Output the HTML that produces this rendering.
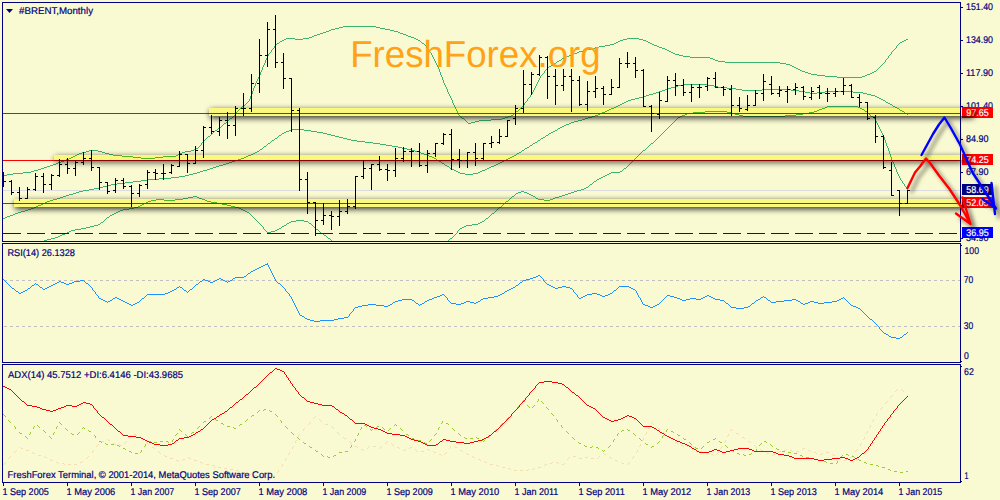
<!DOCTYPE html>
<html><head><meta charset="utf-8"><title>#BRENT,Monthly</title>
<style>
html,body{margin:0;padding:0;background:#FAFAD2;}
svg{display:block}
text{font-family:"Liberation Sans",sans-serif;font-size:9.8px;fill:#000080;stroke:#000080;stroke-width:0.2px;text-rendering:geometricPrecision}
.w{fill:#fff;stroke:#fff}
.wm{font-size:37.5px;fill:#FFA216;stroke:none}
</style></head><body>
<svg width="1000" height="500" viewBox="0 0 1000 500">
<defs>
<filter id="bs" x="-5%" y="-200%" width="110%" height="500%"><feGaussianBlur in="SourceAlpha" stdDeviation="3"/><feOffset dx="1" dy="2"/><feComponentTransfer><feFuncA type="linear" slope="0.85"/></feComponentTransfer><feMerge><feMergeNode/><feMergeNode in="SourceGraphic"/></feMerge></filter>
<filter id="as" x="-30%" y="-30%" width="160%" height="160%"><feGaussianBlur in="SourceAlpha" stdDeviation="2"/><feOffset dx="3.5" dy="3.5"/><feComponentTransfer><feFuncA type="linear" slope="0.55"/></feComponentTransfer><feMerge><feMergeNode/><feMergeNode in="SourceGraphic"/></feMerge></filter>
<clipPath id="cm"><rect x="3" y="3" width="957" height="238"/></clipPath>
</defs>
<rect width="1000" height="500" fill="#FAFAD2"/>
<g clip-path="url(#cm)" shape-rendering="crispEdges">
<rect x="3" y="190" width="957" height="1" fill="#DCDCE0"/>
<path d="M3,175h4v1h-4zM7,174h6v1h-6zM13,173h10v1h-10zM23,172h8v1h-8zM31,171h3v1h-3zM34,170h4v1h-4zM38,169h3v1h-3zM41,168h3v1h-3zM44,167h3v1h-3zM47,166h3v1h-3zM50,165h3v1h-3zM53,164h3v1h-3zM56,163h2v1h-2zM58,162h3v1h-3zM61,161h3v1h-3zM64,160h2v1h-2zM66,159h3v1h-3zM69,158h2v1h-2zM71,157h2v1h-2zM73,156h2v1h-2zM75,155h2v1h-2zM77,154h2v1h-2zM79,153h3v1h-3zM82,152h4v1h-4zM86,151h3v1h-3zM89,150h9v1h-9zM98,151h4v1h-4zM102,152h3v1h-3zM105,153h4v1h-4zM109,154h4v1h-4zM113,155h9v1h-9zM122,156h11v1h-11zM133,157h8v1h-8zM141,158h14v1h-14zM155,157h8v1h-8zM163,156h13v1h-13zM176,155h2v1h-2zM178,154h2v1h-2zM180,153h2v1h-2zM182,152h3v1h-3zM185,151h6v1h-6zM191,150h3v1h-3zM194,149h2v1h-2zM196,148h2v1h-2zM198,147h1v1h-1zM199,146h1v1h-1zM200,145h1v1h-1zM201,143h1v2h-1zM202,142h1v1h-1zM203,141h1v1h-1zM204,140h1v1h-1zM205,139h1v1h-1zM206,138h1v1h-1zM207,137h1v1h-1zM208,136h2v1h-2zM210,135h1v1h-1zM211,134h1v1h-1zM212,133h1v1h-1zM213,132h1v1h-1zM214,131h1v1h-1zM215,130h2v1h-2zM217,129h1v1h-1zM218,128h1v1h-1zM219,127h2v1h-2zM221,126h1v1h-1zM222,125h1v1h-1zM223,124h1v1h-1zM224,123h2v1h-2zM226,122h1v1h-1zM227,121h1v1h-1zM228,120h1v1h-1zM229,119h1v1h-1zM230,118h2v1h-2zM232,117h1v1h-1zM233,116h1v1h-1zM234,115h1v1h-1zM235,114h1v1h-1zM236,112h1v2h-1zM237,111h1v1h-1zM238,110h1v1h-1zM239,109h1v1h-1zM240,108h1v1h-1zM241,107h1v1h-1zM242,106h1v1h-1zM243,105h2v1h-2zM245,104h1v1h-1zM246,103h1v1h-1zM247,102h1v1h-1zM248,101h1v1h-1zM249,99h1v2h-1zM250,96h1v3h-1zM251,94h1v2h-1zM252,91h1v3h-1zM253,88h1v3h-1zM254,86h1v2h-1zM255,83h1v3h-1zM256,81h1v2h-1zM257,79h1v2h-1zM258,77h1v2h-1zM259,75h1v2h-1zM260,72h1v3h-1zM261,70h1v2h-1zM262,67h1v3h-1zM263,65h1v2h-1zM264,63h1v2h-1zM265,60h1v3h-1zM266,58h1v2h-1zM267,56h1v2h-1zM268,54h1v2h-1zM269,53h1v1h-1zM270,52h1v1h-1zM271,50h1v2h-1zM272,49h1v1h-1zM273,48h1v1h-1zM274,46h1v2h-1zM275,45h1v1h-1zM276,44h1v1h-1zM277,43h2v1h-2zM279,42h1v1h-1zM280,41h2v1h-2zM282,40h2v1h-2zM284,39h2v1h-2zM286,38h9v1h-9zM295,39h8v1h-8zM303,38h6v1h-6zM309,37h3v1h-3zM312,36h2v1h-2zM314,35h3v1h-3zM317,34h3v1h-3zM320,33h3v1h-3zM323,32h3v1h-3zM326,31h3v1h-3zM329,30h2v1h-2zM331,29h4v1h-4zM335,28h4v1h-4zM339,27h4v1h-4zM343,26h33v1h-33zM376,27h4v1h-4zM380,28h5v1h-5zM385,29h5v1h-5zM390,30h4v1h-4zM394,31h4v1h-4zM398,32h2v1h-2zM400,33h3v1h-3zM403,34h3v1h-3zM406,35h2v1h-2zM408,36h3v1h-3zM411,37h3v1h-3zM414,38h2v1h-2zM416,39h2v1h-2zM418,40h2v1h-2zM420,41h1v1h-1zM421,42h1v1h-1zM422,43h2v1h-2zM424,44h1v1h-1zM425,45h1v1h-1zM426,46h1v2h-1zM427,48h1v1h-1zM428,49h1v2h-1zM429,51h1v1h-1zM430,52h1v1h-1zM431,53h1v2h-1zM432,55h1v2h-1zM433,57h1v2h-1zM434,59h1v2h-1zM435,61h1v2h-1zM436,63h1v2h-1zM437,65h1v2h-1zM438,67h1v2h-1zM439,69h1v3h-1zM440,72h1v3h-1zM441,75h1v2h-1zM442,77h1v3h-1zM443,80h1v3h-1zM444,83h1v2h-1zM445,85h1v2h-1zM446,87h1v2h-1zM447,89h1v3h-1zM448,92h1v2h-1zM449,94h1v2h-1zM450,96h1v2h-1zM451,98h1v2h-1zM452,100h1v3h-1zM453,103h1v2h-1zM454,105h1v2h-1zM455,107h1v2h-1zM456,109h1v2h-1zM457,111h1v2h-1zM458,113h1v2h-1zM459,115h1v1h-1zM460,116h1v1h-1zM461,117h1v1h-1zM462,118h2v1h-2zM464,119h1v1h-1zM465,120h1v1h-1zM466,121h1v1h-1zM467,122h1v1h-1zM468,123h3v1h-3zM471,122h4v1h-4zM475,121h4v1h-4zM479,120h12v1h-12zM491,119h11v1h-11zM502,118h3v1h-3zM505,117h3v1h-3zM508,116h3v1h-3zM511,115h2v1h-2zM513,114h1v1h-1zM514,113h1v1h-1zM515,112h1v1h-1zM516,111h2v1h-2zM518,110h1v1h-1zM519,109h1v1h-1zM520,108h1v1h-1zM521,107h1v1h-1zM522,106h1v1h-1zM523,105h1v1h-1zM524,103h1v2h-1zM525,102h1v1h-1zM526,101h1v1h-1zM527,99h1v2h-1zM528,98h1v1h-1zM529,97h1v1h-1zM530,95h1v2h-1zM531,94h1v1h-1zM532,92h1v2h-1zM533,90h1v2h-1zM534,88h1v2h-1zM535,86h1v2h-1zM536,84h1v2h-1zM537,82h1v2h-1zM538,80h1v2h-1zM539,78h1v2h-1zM540,76h1v2h-1zM541,75h1v1h-1zM542,74h1v1h-1zM543,73h1v1h-1zM544,71h1v2h-1zM545,70h1v1h-1zM546,69h1v1h-1zM547,68h1v1h-1zM548,67h1v1h-1zM549,66h2v1h-2zM551,65h2v1h-2zM553,64h1v1h-1zM554,63h2v1h-2zM556,62h1v1h-1zM557,61h2v1h-2zM559,60h2v1h-2zM561,59h1v1h-1zM562,58h2v1h-2zM564,57h2v1h-2zM566,56h3v1h-3zM569,55h2v1h-2zM571,54h3v1h-3zM574,53h3v1h-3zM577,52h2v1h-2zM579,51h4v1h-4zM583,50h4v1h-4zM587,49h4v1h-4zM591,48h4v1h-4zM595,47h4v1h-4zM599,46h6v1h-6zM605,45h5v1h-5zM610,44h4v1h-4zM614,43h2v1h-2zM616,42h2v1h-2zM618,41h2v1h-2zM620,40h3v1h-3zM623,39h4v1h-4zM627,38h12v1h-12zM639,39h4v1h-4zM643,40h3v1h-3zM646,41h2v1h-2zM648,42h2v1h-2zM650,43h2v1h-2zM652,44h2v1h-2zM654,45h3v1h-3zM657,46h2v1h-2zM659,47h3v1h-3zM662,48h3v1h-3zM665,49h2v1h-2zM667,50h2v1h-2zM669,51h2v1h-2zM671,52h2v1h-2zM673,53h2v1h-2zM675,54h4v1h-4zM679,55h4v1h-4zM683,56h7v1h-7zM690,57h20v1h-20zM710,58h3v1h-3zM713,59h2v1h-2zM715,60h3v1h-3zM718,61h7v1h-7zM725,62h55v1h-55zM780,63h6v1h-6zM786,64h4v1h-4zM790,65h2v1h-2zM792,66h2v1h-2zM794,67h2v1h-2zM796,68h2v1h-2zM798,69h2v1h-2zM800,70h2v1h-2zM802,71h3v1h-3zM805,72h3v1h-3zM808,73h3v1h-3zM811,74h6v1h-6zM817,75h8v1h-8zM825,76h12v1h-12zM837,77h25v1h-25zM862,76h3v1h-3zM865,75h2v1h-2zM867,74h3v1h-3zM870,73h2v1h-2zM872,72h2v1h-2zM874,71h2v1h-2zM876,70h1v1h-1zM877,69h1v1h-1zM878,68h1v1h-1zM879,67h1v1h-1zM880,66h1v1h-1zM881,65h1v1h-1zM882,64h1v1h-1zM883,63h1v1h-1zM884,62h1v1h-1zM885,60h1v2h-1zM886,59h1v1h-1zM887,58h1v1h-1zM888,56h1v2h-1zM889,55h1v1h-1zM890,54h1v1h-1zM891,52h1v2h-1zM892,51h1v1h-1zM893,50h1v1h-1zM894,49h1v1h-1zM895,48h1v1h-1zM896,46h1v2h-1zM897,45h1v1h-1zM898,44h1v1h-1zM899,43h1v1h-1zM900,42h2v1h-2zM902,41h2v1h-2zM904,40h2v1h-2zM906,39h2v1h-2z" fill="#3CB371"/>
<path d="M3,218h2v1h-2zM5,217h2v1h-2zM7,216h3v1h-3zM10,215h3v1h-3zM13,214h2v1h-2zM15,213h3v1h-3zM18,212h3v1h-3zM21,211h4v1h-4zM25,210h3v1h-3zM28,209h3v1h-3zM31,208h3v1h-3zM34,207h2v1h-2zM36,206h2v1h-2zM38,205h3v1h-3zM41,204h2v1h-2zM43,203h2v1h-2zM45,202h2v1h-2zM47,201h3v1h-3zM50,200h3v1h-3zM53,199h4v1h-4zM57,198h3v1h-3zM60,197h3v1h-3zM63,196h3v1h-3zM66,195h3v1h-3zM69,194h4v1h-4zM73,193h3v1h-3zM76,192h3v1h-3zM79,191h4v1h-4zM83,190h6v1h-6zM89,189h5v1h-5zM94,188h5v1h-5zM99,187h4v1h-4zM103,186h4v1h-4zM107,185h4v1h-4zM111,184h6v1h-6zM117,183h8v1h-8zM125,182h8v1h-8zM133,181h8v1h-8zM141,180h7v1h-7zM148,179h11v1h-11zM159,178h12v1h-12zM171,177h8v1h-8zM179,176h6v1h-6zM185,175h4v1h-4zM189,174h4v1h-4zM193,173h4v1h-4zM197,172h3v1h-3zM200,171h3v1h-3zM203,170h4v1h-4zM207,169h3v1h-3zM210,168h3v1h-3zM213,167h3v1h-3zM216,166h3v1h-3zM219,165h4v1h-4zM223,164h3v1h-3zM226,163h3v1h-3zM229,162h3v1h-3zM232,161h3v1h-3zM235,160h3v1h-3zM238,159h3v1h-3zM241,158h3v1h-3zM244,157h2v1h-2zM246,156h2v1h-2zM248,155h3v1h-3zM251,154h2v1h-2zM253,153h2v1h-2zM255,152h2v1h-2zM257,151h2v1h-2zM259,150h1v1h-1zM260,149h2v1h-2zM262,148h1v1h-1zM263,147h1v1h-1zM264,146h2v1h-2zM266,145h1v1h-1zM267,144h1v1h-1zM268,143h2v1h-2zM270,142h1v1h-1zM271,141h1v1h-1zM272,140h2v1h-2zM274,139h1v1h-1zM275,138h2v1h-2zM277,137h1v1h-1zM278,136h1v1h-1zM279,135h2v1h-2zM281,134h1v1h-1zM282,133h2v1h-2zM284,132h2v1h-2zM286,131h3v1h-3zM289,130h2v1h-2zM291,129h13v1h-13zM304,130h7v1h-7zM311,131h6v1h-6zM317,132h6v1h-6zM323,133h4v1h-4zM327,134h4v1h-4zM331,135h4v1h-4zM335,136h4v1h-4zM339,137h4v1h-4zM343,138h4v1h-4zM347,139h4v1h-4zM351,140h6v1h-6zM357,141h8v1h-8zM365,142h8v1h-8zM373,143h7v1h-7zM380,144h6v1h-6zM386,145h6v1h-6zM392,146h6v1h-6zM398,147h4v1h-4zM402,148h5v1h-5zM407,149h4v1h-4zM411,150h4v1h-4zM415,151h4v1h-4zM419,152h2v1h-2zM421,153h3v1h-3zM424,154h3v1h-3zM427,155h2v1h-2zM429,156h3v1h-3zM432,157h2v1h-2zM434,158h2v1h-2zM436,159h1v1h-1zM437,160h2v1h-2zM439,161h2v1h-2zM441,162h1v1h-1zM442,163h2v1h-2zM444,164h1v1h-1zM445,165h2v1h-2zM447,166h2v1h-2zM449,167h1v1h-1zM450,168h2v1h-2zM452,169h2v1h-2zM454,170h2v1h-2zM456,171h2v1h-2zM458,172h2v1h-2zM460,173h5v1h-5zM465,174h8v1h-8zM473,173h5v1h-5zM478,172h2v1h-2zM480,171h2v1h-2zM482,170h3v1h-3zM485,169h2v1h-2zM487,168h2v1h-2zM489,167h2v1h-2zM491,166h3v1h-3zM494,165h2v1h-2zM496,164h2v1h-2zM498,163h2v1h-2zM500,162h2v1h-2zM502,161h2v1h-2zM504,160h2v1h-2zM506,159h2v1h-2zM508,158h2v1h-2zM510,157h2v1h-2zM512,156h2v1h-2zM514,155h2v1h-2zM516,154h1v1h-1zM517,153h2v1h-2zM519,152h2v1h-2zM521,151h1v1h-1zM522,150h2v1h-2zM524,149h1v1h-1zM525,148h2v1h-2zM527,147h2v1h-2zM529,146h1v1h-1zM530,145h2v1h-2zM532,144h1v1h-1zM533,143h2v1h-2zM535,142h2v1h-2zM537,141h1v1h-1zM538,140h2v1h-2zM540,139h1v1h-1zM541,138h2v1h-2zM543,137h2v1h-2zM545,136h1v1h-1zM546,135h2v1h-2zM548,134h1v1h-1zM549,133h2v1h-2zM551,132h2v1h-2zM553,131h2v1h-2zM555,130h2v1h-2zM557,129h1v1h-1zM558,128h2v1h-2zM560,127h2v1h-2zM562,126h2v1h-2zM564,125h2v1h-2zM566,124h3v1h-3zM569,123h2v1h-2zM571,122h3v1h-3zM574,121h4v1h-4zM578,120h4v1h-4zM582,119h3v1h-3zM585,118h3v1h-3zM588,117h4v1h-4zM592,116h3v1h-3zM595,115h3v1h-3zM598,114h2v1h-2zM600,113h2v1h-2zM602,112h3v1h-3zM605,111h2v1h-2zM607,110h2v1h-2zM609,109h2v1h-2zM611,108h3v1h-3zM614,107h2v1h-2zM616,106h2v1h-2zM618,105h2v1h-2zM620,104h2v1h-2zM622,103h2v1h-2zM624,102h2v1h-2zM626,101h2v1h-2zM628,100h3v1h-3zM631,99h4v1h-4zM635,98h4v1h-4zM639,97h4v1h-4zM643,96h3v1h-3zM646,95h3v1h-3zM649,94h4v1h-4zM653,93h3v1h-3zM656,92h3v1h-3zM659,91h3v1h-3zM662,90h3v1h-3zM665,89h3v1h-3zM668,88h3v1h-3zM671,87h4v1h-4zM675,86h3v1h-3zM678,85h6v1h-6zM684,84h23v1h-23zM707,85h7v1h-7zM714,86h4v1h-4zM718,87h9v1h-9zM727,88h9v1h-9zM736,89h6v1h-6zM742,90h20v1h-20zM762,89h29v1h-29zM791,90h8v1h-8zM799,91h6v1h-6zM805,92h5v1h-5zM810,93h7v1h-7zM817,92h8v1h-8zM825,91h28v1h-28zM853,92h10v1h-10zM863,93h4v1h-4zM867,94h4v1h-4zM871,95h4v1h-4zM875,96h2v1h-2zM877,97h2v1h-2zM879,98h2v1h-2zM881,99h2v1h-2zM883,100h2v1h-2zM885,101h1v1h-1zM886,102h2v1h-2zM888,103h2v1h-2zM890,104h2v1h-2zM892,105h1v1h-1zM893,106h2v1h-2zM895,107h2v1h-2zM897,108h2v1h-2zM899,109h1v1h-1zM900,110h2v1h-2zM902,111h2v1h-2zM904,112h1v1h-1zM905,113h2v1h-2zM907,114h1v1h-1z" fill="#3CB371"/>
<path d="M38,244h1v1h-1zM39,243h2v1h-2zM41,242h1v1h-1zM42,241h2v1h-2zM44,240h3v1h-3zM47,239h4v1h-4zM51,238h4v1h-4zM55,237h3v1h-3zM58,236h2v1h-2zM60,235h2v1h-2zM62,234h3v1h-3zM65,233h2v1h-2zM67,232h2v1h-2zM69,231h2v1h-2zM71,230h4v1h-4zM75,229h6v1h-6zM81,228h5v1h-5zM86,227h4v1h-4zM90,226h4v1h-4zM94,225h4v1h-4zM98,224h2v1h-2zM100,223h1v1h-1zM101,222h2v1h-2zM103,221h1v1h-1zM104,220h1v1h-1zM105,219h1v1h-1zM106,218h1v1h-1zM107,217h2v1h-2zM109,216h1v1h-1zM110,215h2v1h-2zM112,214h2v1h-2zM114,213h2v1h-2zM116,212h2v1h-2zM118,211h2v1h-2zM120,210h3v1h-3zM123,209h6v1h-6zM129,208h5v1h-5zM134,207h4v1h-4zM138,206h2v1h-2zM140,205h2v1h-2zM142,204h2v1h-2zM144,203h2v1h-2zM146,202h2v1h-2zM148,201h3v1h-3zM151,200h5v1h-5zM156,199h8v1h-8zM164,200h11v1h-11zM175,199h8v1h-8zM183,198h5v1h-5zM188,197h5v1h-5zM193,196h4v1h-4zM197,197h2v1h-2zM199,198h3v1h-3zM202,199h3v1h-3zM205,200h2v1h-2zM207,201h4v1h-4zM211,202h6v1h-6zM217,203h5v1h-5zM222,204h5v1h-5zM227,205h4v1h-4zM231,206h4v1h-4zM235,207h4v1h-4zM239,208h2v1h-2zM241,209h2v1h-2zM243,210h2v1h-2zM245,211h2v1h-2zM247,212h2v1h-2zM249,213h1v1h-1zM250,214h1v1h-1zM251,215h1v1h-1zM252,216h1v1h-1zM253,217h1v1h-1zM254,218h1v1h-1zM255,219h1v1h-1zM256,220h1v1h-1zM257,221h1v1h-1zM258,222h1v1h-1zM259,223h1v1h-1zM260,224h1v1h-1zM261,225h1v1h-1zM262,226h1v1h-1zM263,227h1v2h-1zM264,229h1v1h-1zM265,230h1v1h-1zM266,231h1v1h-1zM267,232h4v1h-4zM271,231h4v1h-4zM275,230h2v1h-2zM277,229h2v1h-2zM279,228h2v1h-2zM281,227h1v1h-1zM282,226h2v1h-2zM284,225h2v1h-2zM286,224h1v1h-1zM287,223h2v1h-2zM289,222h2v1h-2zM291,221h5v1h-5zM296,220h8v1h-8zM304,221h4v1h-4zM308,222h1v1h-1zM309,223h2v1h-2zM311,224h1v1h-1zM312,225h1v1h-1zM313,226h1v1h-1zM314,227h1v1h-1zM315,228h1v1h-1zM316,229h2v1h-2zM318,230h1v1h-1zM319,231h1v1h-1zM320,232h1v1h-1zM321,233h2v1h-2zM323,234h1v1h-1zM324,235h2v1h-2zM326,236h1v1h-1zM327,237h1v1h-1zM328,238h2v1h-2zM330,239h1v1h-1zM331,240h1v1h-1zM332,241h2v1h-2zM334,242h1v1h-1zM335,243h1v1h-1zM336,244h1v1h-1z" fill="#3CB371"/>
<path d="M445,245h1v1h-1zM446,243h1v2h-1zM447,241h1v2h-1zM448,240h1v1h-1zM449,239h1v1h-1zM450,238h2v1h-2zM452,237h1v1h-1zM453,236h1v1h-1zM454,235h1v1h-1zM455,234h1v1h-1zM456,233h1v1h-1zM457,231h1v2h-1zM458,230h1v1h-1zM459,229h1v1h-1zM460,228h2v1h-2zM462,227h2v1h-2zM464,226h2v1h-2zM466,225h6v1h-6zM472,224h6v1h-6zM478,223h2v1h-2zM480,222h2v1h-2zM482,221h2v1h-2zM484,220h1v1h-1zM485,219h1v1h-1zM486,218h2v1h-2zM488,217h1v1h-1zM489,216h1v1h-1zM490,215h1v1h-1zM491,214h1v1h-1zM492,213h2v1h-2zM494,212h1v1h-1zM495,211h1v1h-1zM496,210h1v1h-1zM497,209h1v1h-1zM498,208h1v1h-1zM499,207h2v1h-2zM501,206h1v1h-1zM502,205h1v1h-1zM503,204h1v1h-1zM504,203h1v1h-1zM505,202h1v1h-1zM506,201h2v1h-2zM508,200h1v1h-1zM509,199h1v1h-1zM510,198h1v1h-1zM511,197h1v1h-1zM512,196h2v1h-2zM514,195h1v1h-1zM515,194h1v1h-1zM516,193h2v1h-2zM518,192h3v1h-3zM521,191h3v1h-3zM524,192h3v1h-3zM527,193h2v1h-2zM529,194h2v1h-2zM531,195h2v1h-2zM533,196h2v1h-2zM535,197h1v1h-1zM536,198h2v1h-2zM538,199h6v1h-6zM544,200h6v1h-6zM550,199h3v1h-3zM553,198h2v1h-2zM555,197h4v1h-4zM559,196h3v1h-3zM562,195h3v1h-3zM565,194h3v1h-3zM568,193h3v1h-3zM571,192h3v1h-3zM574,191h3v1h-3zM577,190h4v1h-4zM581,189h3v1h-3zM584,188h2v1h-2zM586,187h2v1h-2zM588,186h1v1h-1zM589,185h1v1h-1zM590,184h2v1h-2zM592,183h1v1h-1zM593,182h1v1h-1zM594,181h2v1h-2zM596,180h1v1h-1zM597,179h2v1h-2zM599,178h2v1h-2zM601,177h2v1h-2zM603,176h2v1h-2zM605,175h2v1h-2zM607,174h2v1h-2zM609,173h2v1h-2zM611,172h9v1h-9zM620,171h2v1h-2zM622,170h1v1h-1zM623,169h1v1h-1zM624,168h2v1h-2zM626,167h1v1h-1zM627,166h1v1h-1zM628,165h1v1h-1zM629,164h1v1h-1zM630,163h1v1h-1zM631,162h1v1h-1zM632,161h1v1h-1zM633,160h1v1h-1zM634,159h1v1h-1zM635,158h1v1h-1zM636,157h1v1h-1zM637,156h1v1h-1zM638,155h1v1h-1zM639,154h1v1h-1zM640,153h1v1h-1zM641,152h1v1h-1zM642,151h1v1h-1zM643,150h2v1h-2zM645,149h1v1h-1zM646,148h1v1h-1zM647,147h1v1h-1zM648,146h1v1h-1zM649,145h1v1h-1zM650,144h1v1h-1zM651,143h2v1h-2zM653,142h1v1h-1zM654,141h1v1h-1zM655,140h1v1h-1zM656,139h1v1h-1zM657,138h1v1h-1zM658,137h1v1h-1zM659,136h1v1h-1zM660,135h1v1h-1zM661,134h1v1h-1zM662,133h1v1h-1zM663,132h1v1h-1zM664,131h1v1h-1zM665,130h1v1h-1zM666,129h1v1h-1zM667,128h1v1h-1zM668,127h1v1h-1zM669,126h1v1h-1zM670,125h1v1h-1zM671,124h1v1h-1zM672,123h1v1h-1zM673,122h1v1h-1zM674,121h1v1h-1zM675,120h1v1h-1zM676,119h1v1h-1zM677,118h1v1h-1zM678,117h2v1h-2zM680,116h2v1h-2zM682,115h3v1h-3zM685,114h2v1h-2zM687,113h6v1h-6zM693,112h12v1h-12zM705,111h22v1h-22zM727,112h4v1h-4zM731,113h4v1h-4zM735,114h4v1h-4zM739,115h4v1h-4zM743,116h42v1h-42zM785,115h11v1h-11zM796,114h7v1h-7zM803,113h6v1h-6zM809,112h5v1h-5zM814,111h3v1h-3zM817,110h2v1h-2zM819,109h3v1h-3zM822,108h3v1h-3zM825,107h2v1h-2zM827,106h31v1h-31zM858,107h2v1h-2zM860,108h2v1h-2zM862,109h2v1h-2zM864,110h1v1h-1zM865,111h2v1h-2zM867,112h1v1h-1zM868,113h1v1h-1zM869,114h1v1h-1zM870,115h1v1h-1zM871,116h2v1h-2zM873,117h1v1h-1zM874,118h1v1h-1zM875,119h1v2h-1zM876,121h1v2h-1zM877,123h1v2h-1zM878,125h1v2h-1zM879,127h1v2h-1zM880,129h1v2h-1zM881,131h1v2h-1zM882,133h1v2h-1zM883,135h1v2h-1zM884,137h1v3h-1zM885,140h1v3h-1zM886,143h1v3h-1zM887,146h1v2h-1zM888,148h1v3h-1zM889,151h1v3h-1zM890,154h1v3h-1zM891,157h1v3h-1zM892,160h1v2h-1zM893,162h1v2h-1zM894,164h1v3h-1zM895,167h1v2h-1zM896,169h1v3h-1zM897,172h1v2h-1zM898,174h1v2h-1zM899,176h1v2h-1zM900,178h1v2h-1zM901,180h1v1h-1zM902,181h1v2h-1zM903,183h1v1h-1zM904,184h1v2h-1zM905,186h1v1h-1zM906,187h1v2h-1zM907,189h1v1h-1z" fill="#3CB371"/>
</g>
<text class="wm" x="350.2" y="66.6" textLength="250.5" lengthAdjust="spacingAndGlyphs">FreshForex.org</text>
<g clip-path="url(#cm)" shape-rendering="crispEdges">
<rect x="3" y="113" width="957" height="1" fill="#FF0000"/>
<rect x="3" y="160" width="957" height="1" fill="#FF0000"/>
<rect x="3" y="203" width="957" height="1" fill="#FF0000"/>
<line x1="3" y1="233.5" x2="960" y2="233.5" stroke="#0000FF" stroke-width="1" stroke-dasharray="18 6"/>
<path id="bars" d="M3,172v15h1v-15zM4,181h2v1h-2zM11,180v15h1v-15zM9,181h2v1h-2zM12,192h2v1h-2zM19,187v14h1v-14zM17,192h2v1h-2zM20,198h2v1h-2zM27,187v12h1v-12zM25,198h2v1h-2zM28,189h2v1h-2zM35,173v18h1v-18zM33,189h2v1h-2zM36,176h2v1h-2zM43,173v20h1v-20zM41,176h2v1h-2zM44,184h2v1h-2zM51,174v16h1v-16zM49,184h2v1h-2zM52,175h2v1h-2zM59,159v18h1v-18zM57,175h2v1h-2zM60,164h2v1h-2zM67,158v16h1v-16zM65,164h2v1h-2zM68,168h2v1h-2zM75,161v15h1v-15zM73,168h2v1h-2zM76,162h2v1h-2zM83,152v13h1v-13zM81,162h2v1h-2zM84,158h2v1h-2zM91,150v21h1v-21zM89,158h2v1h-2zM92,167h2v1h-2zM99,167v23h1v-23zM97,167h2v1h-2zM100,182h2v1h-2zM107,182v12h1v-12zM105,182h2v1h-2zM108,191h2v1h-2zM115,178v15h1v-15zM113,190h2v1h-2zM116,180h2v1h-2zM123,178v11h1v-11zM121,180h2v1h-2zM124,186h2v1h-2zM131,185v22h1v-22zM129,186h2v1h-2zM132,193h2v1h-2zM139,184v13h1v-13zM137,193h2v1h-2zM140,185h2v1h-2zM147,170v19h1v-19zM145,184h2v1h-2zM148,172h2v1h-2zM155,169v11h1v-11zM153,172h2v1h-2zM156,173h2v1h-2zM163,164v16h1v-16zM161,173h2v1h-2zM164,173h2v1h-2zM171,164v10h1v-10zM169,172h2v1h-2zM172,165h2v1h-2zM179,151v16h1v-16zM177,166h2v1h-2zM180,154h2v1h-2zM187,154v19h1v-19zM185,154h2v1h-2zM188,163h2v1h-2zM195,146v18h1v-18zM193,163h2v1h-2zM196,150h2v1h-2zM203,126v32h1v-32zM201,150h2v1h-2zM204,127h2v1h-2zM211,115v19h1v-19zM209,127h2v1h-2zM212,131h2v1h-2zM219,117v19h1v-19zM217,131h2v1h-2zM220,120h2v1h-2zM227,112v27h1v-27zM225,120h2v1h-2zM228,125h2v1h-2zM235,106v30h1v-30zM233,125h2v1h-2zM236,108h2v1h-2zM243,93v23h1v-23zM241,108h2v1h-2zM244,108h2v1h-2zM251,74v38h1v-38zM249,108h2v1h-2zM252,83h2v1h-2zM259,39v54h1v-54zM257,83h2v1h-2zM260,55h2v1h-2zM267,22v45h1v-45zM265,55h2v1h-2zM268,29h2v1h-2zM275,15v53h1v-53zM273,29h2v1h-2zM276,62h2v1h-2zM283,53v36h1v-36zM281,62h2v1h-2zM284,78h2v1h-2zM291,78v54h1v-54zM289,78h2v1h-2zM292,110h2v1h-2zM299,108v83h1v-83zM297,110h2v1h-2zM300,179h2v1h-2zM307,172v42h1v-42zM305,179h2v1h-2zM308,202h2v1h-2zM315,202v34h1v-34zM313,202h2v1h-2zM316,220h2v1h-2zM323,203v22h1v-22zM321,220h2v1h-2zM324,215h2v1h-2zM331,211v19h1v-19zM329,215h2v1h-2zM332,216h2v1h-2zM339,200v26h1v-26zM337,216h2v1h-2zM340,211h2v1h-2zM347,199v15h1v-15zM345,211h2v1h-2zM348,206h2v1h-2zM355,176v33h1v-33zM353,206h2v1h-2zM356,176h2v1h-2zM363,160v19h1v-19zM361,176h2v1h-2zM364,168h2v1h-2zM371,164v26h1v-26zM369,168h2v1h-2zM372,164h2v1h-2zM379,156v15h1v-15zM377,164h2v1h-2zM380,169h2v1h-2zM387,164v17h1v-17zM385,169h2v1h-2zM388,170h2v1h-2zM395,148v29h1v-29zM393,170h2v1h-2zM396,158h2v1h-2zM403,147v15h1v-15zM401,158h2v1h-2zM404,151h2v1h-2zM411,148v19h1v-19zM409,151h2v1h-2zM412,151h2v1h-2zM419,143v24h1v-24zM417,151h2v1h-2zM420,165h2v1h-2zM427,150v23h1v-23zM425,165h2v1h-2zM428,153h2v1h-2zM435,143v14h1v-14zM433,153h2v1h-2zM436,143h2v1h-2zM443,133v12h1v-12zM441,143h2v1h-2zM444,134h2v1h-2zM451,129v41h1v-41zM449,134h2v1h-2zM452,159h2v1h-2zM459,149v19h1v-19zM457,159h2v1h-2zM460,160h2v1h-2zM467,152v16h1v-16zM465,160h2v1h-2zM468,152h2v1h-2zM475,143v23h1v-23zM473,152h2v1h-2zM476,158h2v1h-2zM483,143v17h1v-17zM481,158h2v1h-2zM484,143h2v1h-2zM491,136v12h1v-12zM489,143h2v1h-2zM492,142h2v1h-2zM499,129v15h1v-15zM497,142h2v1h-2zM500,136h2v1h-2zM507,120v17h1v-17zM505,136h2v1h-2zM508,120h2v1h-2zM515,105v20h1v-20zM513,118h2v1h-2zM516,108h2v1h-2zM523,70v43h1v-43zM521,108h2v1h-2zM524,84h2v1h-2zM531,72v23h1v-23zM529,84h2v1h-2zM532,74h2v1h-2zM539,55v21h1v-21zM537,74h2v1h-2zM540,57h2v1h-2zM547,56v43h1v-43zM545,57h2v1h-2zM548,76h2v1h-2zM555,69v36h1v-36zM553,76h2v1h-2zM556,85h2v1h-2zM563,69v22h1v-22zM561,85h2v1h-2zM564,76h2v1h-2zM571,69v43h1v-43zM569,76h2v1h-2zM572,80h2v1h-2zM579,76v30h1v-30zM577,80h2v1h-2zM580,104h2v1h-2zM587,81v30h1v-30zM585,104h2v1h-2zM588,91h2v1h-2zM595,76v22h1v-22zM593,91h2v1h-2zM596,88h2v1h-2zM603,86v19h1v-19zM601,88h2v1h-2zM604,94h2v1h-2zM611,79v16h1v-16zM609,94h2v1h-2zM612,87h2v1h-2zM619,58v30h1v-30zM617,87h2v1h-2zM620,63h2v1h-2zM627,52v16h1v-16zM625,63h2v1h-2zM628,63h2v1h-2zM635,57v21h1v-21zM633,63h2v1h-2zM636,70h2v1h-2zM643,69v38h1v-38zM641,70h2v1h-2zM644,106h2v1h-2zM651,105v27h1v-27zM649,106h2v1h-2zM652,113h2v1h-2zM659,92v27h1v-27zM657,114h2v1h-2zM660,100h2v1h-2zM667,76v26h1v-26zM665,101h2v1h-2zM668,80h2v1h-2zM675,73v23h1v-23zM673,80h2v1h-2zM676,85h2v1h-2zM683,79v17h1v-17zM681,85h2v1h-2zM684,92h2v1h-2zM691,84v18h1v-18zM689,92h2v1h-2zM692,87h2v1h-2zM699,84v14h1v-14zM697,87h2v1h-2zM700,87h2v1h-2zM707,77v14h1v-14zM705,86h2v1h-2zM708,78h2v1h-2zM715,72v16h1v-16zM713,78h2v1h-2zM716,87h2v1h-2zM723,86v10h1v-10zM721,87h2v1h-2zM724,89h2v1h-2zM731,85v31h1v-31zM729,89h2v1h-2zM732,105h2v1h-2zM739,97v15h1v-15zM737,105h2v1h-2zM740,108h2v1h-2zM747,95v16h1v-16zM745,109h2v1h-2zM748,105h2v1h-2zM755,90v16h1v-16zM753,105h2v1h-2zM756,93h2v1h-2zM763,74v27h1v-27zM761,93h2v1h-2zM764,81h2v1h-2zM771,76v19h1v-19zM769,84h2v1h-2zM772,93h2v1h-2zM779,86v11h1v-11zM777,93h2v1h-2zM780,90h2v1h-2zM787,86v17h1v-17zM785,91h2v1h-2zM788,89h2v1h-2zM795,83v12h1v-12zM793,89h2v1h-2zM796,87h2v1h-2zM803,86v14h1v-14zM801,87h2v1h-2zM804,96h2v1h-2zM811,87v13h1v-13zM809,97h2v1h-2zM812,91h2v1h-2zM819,85v14h1v-14zM817,87h2v1h-2zM820,93h2v1h-2zM827,88v14h1v-14zM825,93h2v1h-2zM828,93h2v1h-2zM835,88v9h1v-9zM833,93h2v1h-2zM836,91h2v1h-2zM843,78v17h1v-17zM841,91h2v1h-2zM844,85h2v1h-2zM851,84v14h1v-14zM849,85h2v1h-2zM852,97h2v1h-2zM859,94v13h1v-13zM857,97h2v1h-2zM860,102h2v1h-2zM867,102v18h1v-18zM865,102h2v1h-2zM868,118h2v1h-2zM875,115v28h1v-28zM873,117h2v1h-2zM876,136h2v1h-2zM883,135v34h1v-34zM881,136h2v1h-2zM884,167h2v1h-2zM891,162v34h1v-34zM889,170h2v1h-2zM892,195h2v1h-2zM899,190v26h1v-26zM897,190h2v1h-2zM900,203h2v1h-2zM907,190v14h1v-14zM905,203h2v1h-2zM908,190h2v1h-2z" fill="#000"/>
</g>
<g shape-rendering="crispEdges">
<line x1="4" y1="280.5" x2="960" y2="280.5" stroke="#C0C0C0" stroke-width="1" stroke-dasharray="3 3"/>
<line x1="4" y1="326.5" x2="960" y2="326.5" stroke="#C0C0C0" stroke-width="1" stroke-dasharray="3 3"/>
<path d="M3,279h1v1h-1zM4,280h1v1h-1zM5,281h1v1h-1zM6,282h1v1h-1zM7,283h1v1h-1zM8,284h1v1h-1zM9,285h1v1h-1zM10,286h1v1h-1zM11,287h1v1h-1zM12,288h2v1h-2zM14,289h1v1h-1zM15,290h1v1h-1zM16,291h2v1h-2zM18,292h1v1h-1zM19,293h2v1h-2zM21,292h2v1h-2zM23,291h2v1h-2zM25,290h2v1h-2zM27,289h1v1h-1zM28,288h2v1h-2zM30,287h1v1h-1zM31,286h1v1h-1zM32,285h2v1h-2zM34,284h1v1h-1zM35,283h1v1h-1zM36,284h2v1h-2zM38,285h1v1h-1zM39,286h1v1h-1zM40,287h2v1h-2zM42,288h1v1h-1zM43,289h2v1h-2zM45,288h2v1h-2zM47,287h2v1h-2zM49,286h2v1h-2zM51,285h2v1h-2zM53,284h2v1h-2zM55,283h2v1h-2zM57,282h2v1h-2zM59,281h2v1h-2zM61,282h3v1h-3zM64,283h2v1h-2zM66,284h3v1h-3zM69,283h3v1h-3zM72,282h2v1h-2zM74,281h6v1h-6zM80,280h4v1h-4zM84,281h1v1h-1zM85,282h1v1h-1zM86,283h2v1h-2zM88,284h1v1h-1zM89,285h1v1h-1zM90,286h1v1h-1zM91,287h1v1h-1zM92,288h1v2h-1zM93,290h1v1h-1zM94,291h1v1h-1zM95,292h1v2h-1zM96,294h1v1h-1zM97,295h1v1h-1zM98,296h1v2h-1zM99,298h2v1h-2zM101,299h2v1h-2zM103,300h2v1h-2zM105,301h2v1h-2zM107,302h1v1h-1zM108,301h2v1h-2zM110,300h2v1h-2zM112,299h1v1h-1zM113,298h2v1h-2zM115,297h2v1h-2zM117,298h2v1h-2zM119,299h2v1h-2zM121,300h2v1h-2zM123,301h2v1h-2zM125,302h2v1h-2zM127,303h2v1h-2zM129,304h2v1h-2zM131,305h2v1h-2zM133,304h2v1h-2zM135,303h2v1h-2zM137,302h2v1h-2zM139,301h1v1h-1zM140,300h1v1h-1zM141,299h1v1h-1zM142,298h2v1h-2zM144,297h1v1h-1zM145,296h1v1h-1zM146,295h1v1h-1zM147,294h18v1h-18zM165,293h3v1h-3zM168,292h2v1h-2zM170,291h2v1h-2zM172,290h2v1h-2zM174,289h2v1h-2zM176,288h1v1h-1zM177,287h2v1h-2zM179,286h1v1h-1zM180,287h2v1h-2zM182,288h1v1h-1zM183,289h1v1h-1zM184,290h2v1h-2zM186,291h1v1h-1zM187,292h1v1h-1zM188,291h1v1h-1zM189,290h1v1h-1zM190,289h2v1h-2zM192,288h1v1h-1zM193,287h1v1h-1zM194,286h1v1h-1zM195,285h1v1h-1zM196,284h2v1h-2zM198,283h1v1h-1zM199,282h1v1h-1zM200,281h2v1h-2zM202,280h1v1h-1zM203,279h2v1h-2zM205,280h3v1h-3zM208,281h2v1h-2zM210,282h3v1h-3zM213,281h2v1h-2zM215,280h2v1h-2zM217,279h2v1h-2zM219,278h2v1h-2zM221,279h2v1h-2zM223,280h2v1h-2zM225,281h2v1h-2zM227,282h1v1h-1zM228,281h2v1h-2zM230,280h2v1h-2zM232,279h1v1h-1zM233,278h2v1h-2zM235,277h9v1h-9zM244,276h2v1h-2zM246,275h1v1h-1zM247,274h1v1h-1zM248,273h2v1h-2zM250,272h1v1h-1zM251,271h2v1h-2zM253,270h2v1h-2zM255,269h2v1h-2zM257,268h2v1h-2zM259,267h2v1h-2zM261,266h2v1h-2zM263,265h2v1h-2zM265,264h2v1h-2zM267,263h1v2h-1zM268,265h1v2h-1zM269,267h1v2h-1zM270,269h1v2h-1zM271,271h1v2h-1zM272,273h1v2h-1zM273,275h1v2h-1zM274,277h1v2h-1zM275,279h1v2h-1zM276,281h1v1h-1zM277,282h1v1h-1zM278,283h2v1h-2zM280,284h1v1h-1zM281,285h1v1h-1zM282,286h1v1h-1zM283,287h1v1h-1zM284,288h1v1h-1zM285,289h1v2h-1zM286,291h1v1h-1zM287,292h1v1h-1zM288,293h1v1h-1zM289,294h1v2h-1zM290,296h1v1h-1zM291,297h1v2h-1zM292,299h1v2h-1zM293,301h1v2h-1zM294,303h1v2h-1zM295,305h1v2h-1zM296,307h1v2h-1zM297,309h1v2h-1zM298,311h1v2h-1zM299,313h1v2h-1zM300,315h2v1h-2zM302,316h2v1h-2zM304,317h1v1h-1zM305,318h2v1h-2zM307,319h3v1h-3zM310,320h4v1h-4zM314,321h6v1h-6zM320,320h14v1h-14zM334,319h4v1h-4zM338,318h6v1h-6zM344,317h4v1h-4zM348,316h1v1h-1zM349,314h1v2h-1zM350,313h1v1h-1zM351,312h1v1h-1zM352,311h1v1h-1zM353,309h1v2h-1zM354,308h1v1h-1zM355,307h3v1h-3zM358,306h4v1h-4zM362,305h6v1h-6zM368,304h8v1h-8zM376,305h8v1h-8zM384,306h4v1h-4zM388,305h2v1h-2zM390,304h2v1h-2zM392,303h1v1h-1zM393,302h2v1h-2zM395,301h3v1h-3zM398,300h4v1h-4zM402,299h10v1h-10zM412,300h2v1h-2zM414,301h1v1h-1zM415,302h1v1h-1zM416,303h2v1h-2zM418,304h1v1h-1zM419,305h1v1h-1zM420,304h2v1h-2zM422,303h2v1h-2zM424,302h1v1h-1zM425,301h2v1h-2zM427,300h2v1h-2zM429,299h3v1h-3zM432,298h2v1h-2zM434,297h3v1h-3zM437,296h3v1h-3zM440,295h2v1h-2zM442,294h2v1h-2zM444,295h1v1h-1zM445,296h1v1h-1zM446,297h1v1h-1zM447,298h1v2h-1zM448,300h1v1h-1zM449,301h1v1h-1zM450,302h1v1h-1zM451,303h5v1h-5zM456,304h5v1h-5zM461,303h3v1h-3zM464,302h2v1h-2zM466,301h4v1h-4zM470,302h4v1h-4zM474,303h2v1h-2zM476,302h2v1h-2zM478,301h2v1h-2zM480,300h1v1h-1zM481,299h2v1h-2zM483,298h5v1h-5zM488,297h6v1h-6zM494,296h4v1h-4zM498,295h2v1h-2zM500,294h2v1h-2zM502,293h2v1h-2zM504,292h1v1h-1zM505,291h2v1h-2zM507,290h2v1h-2zM509,289h2v1h-2zM511,288h2v1h-2zM513,287h2v1h-2zM515,286h1v1h-1zM516,285h2v1h-2zM518,284h1v1h-1zM519,283h1v1h-1zM520,282h2v1h-2zM522,281h1v1h-1zM523,280h3v1h-3zM526,279h4v1h-4zM530,278h3v1h-3zM533,277h3v1h-3zM536,276h2v1h-2zM538,275h2v1h-2zM540,276h1v1h-1zM541,277h1v1h-1zM542,278h1v1h-1zM543,279h1v2h-1zM544,281h1v1h-1zM545,282h1v1h-1zM546,283h1v1h-1zM547,284h2v1h-2zM549,285h2v1h-2zM551,286h2v1h-2zM553,287h2v1h-2zM555,288h3v1h-3zM558,287h4v1h-4zM562,286h4v1h-4zM566,287h4v1h-4zM570,288h2v1h-2zM572,289h1v1h-1zM573,290h1v2h-1zM574,292h1v1h-1zM575,293h1v1h-1zM576,294h1v1h-1zM577,295h1v2h-1zM578,297h1v1h-1zM579,298h2v1h-2zM581,297h2v1h-2zM583,296h2v1h-2zM585,295h2v1h-2zM587,294h5v1h-5zM592,293h5v1h-5zM597,294h3v1h-3zM600,295h2v1h-2zM602,296h3v1h-3zM605,295h3v1h-3zM608,294h2v1h-2zM610,293h2v1h-2zM612,292h1v1h-1zM613,291h1v1h-1zM614,290h2v1h-2zM616,289h1v1h-1zM617,288h1v1h-1zM618,287h1v1h-1zM619,286h10v1h-10zM629,287h2v1h-2zM631,288h2v1h-2zM633,289h2v1h-2zM635,290h1v1h-1zM636,291h1v2h-1zM637,293h1v2h-1zM638,295h1v2h-1zM639,297h1v1h-1zM640,298h1v2h-1zM641,300h1v2h-1zM642,302h1v2h-1zM643,304h2v1h-2zM645,305h3v1h-3zM648,306h2v1h-2zM650,307h3v1h-3zM653,306h2v1h-2zM655,305h2v1h-2zM657,304h2v1h-2zM659,303h1v1h-1zM660,302h1v1h-1zM661,301h1v1h-1zM662,300h1v1h-1zM663,299h1v1h-1zM664,298h1v1h-1zM665,297h1v1h-1zM666,296h1v1h-1zM667,295h3v1h-3zM670,296h4v1h-4zM674,297h3v1h-3zM677,298h3v1h-3zM680,299h2v1h-2zM682,300h4v1h-4zM686,299h4v1h-4zM690,298h6v1h-6zM696,299h5v1h-5zM701,298h2v1h-2zM703,297h2v1h-2zM705,296h2v1h-2zM707,295h2v1h-2zM709,296h2v1h-2zM711,297h2v1h-2zM713,298h2v1h-2zM715,299h5v1h-5zM720,300h4v1h-4zM724,301h1v1h-1zM725,302h1v1h-1zM726,303h2v1h-2zM728,304h1v1h-1zM729,305h1v1h-1zM730,306h1v1h-1zM731,307h5v1h-5zM736,308h8v1h-8zM744,307h4v1h-4zM748,306h2v1h-2zM750,305h1v1h-1zM751,304h1v1h-1zM752,303h2v1h-2zM754,302h1v1h-1zM755,301h1v1h-1zM756,300h2v1h-2zM758,299h2v1h-2zM760,298h1v1h-1zM761,297h2v1h-2zM763,296h1v1h-1zM764,297h2v1h-2zM766,298h1v1h-1zM767,299h1v1h-1zM768,300h2v1h-2zM770,301h1v1h-1zM771,302h5v1h-5zM776,301h8v1h-8zM784,300h8v1h-8zM792,299h4v1h-4zM796,300h2v1h-2zM798,301h2v1h-2zM800,302h1v1h-1zM801,303h2v1h-2zM803,304h2v1h-2zM805,303h3v1h-3zM808,302h2v1h-2zM810,301h4v1h-4zM814,302h4v1h-4zM818,303h6v1h-6zM824,302h8v1h-8zM832,301h5v1h-5zM837,300h2v1h-2zM839,299h2v1h-2zM841,298h2v1h-2zM843,297h1v1h-1zM844,298h1v1h-1zM845,299h1v1h-1zM846,300h1v1h-1zM847,301h1v1h-1zM848,302h1v1h-1zM849,303h1v1h-1zM850,304h1v1h-1zM851,305h2v1h-2zM853,306h3v1h-3zM856,307h2v1h-2zM858,308h2v1h-2zM860,309h1v1h-1zM861,310h1v1h-1zM862,311h1v1h-1zM863,312h1v1h-1zM864,313h1v1h-1zM865,314h1v1h-1zM866,315h1v1h-1zM867,316h1v1h-1zM868,317h1v1h-1zM869,318h1v1h-1zM870,319h2v1h-2zM872,320h1v1h-1zM873,321h1v1h-1zM874,322h1v1h-1zM875,323h1v1h-1zM876,324h1v1h-1zM877,325h1v1h-1zM878,326h1v1h-1zM879,327h1v2h-1zM880,329h1v1h-1zM881,330h1v1h-1zM882,331h1v1h-1zM883,332h1v1h-1zM884,333h2v1h-2zM886,334h2v1h-2zM888,335h1v1h-1zM889,336h2v1h-2zM891,337h5v1h-5zM896,338h4v1h-4zM900,337h2v1h-2zM902,336h1v1h-1zM903,335h1v1h-1zM904,334h2v1h-2zM906,333h1v1h-1zM907,332h1v1h-1z" fill="#1E90FF"/>
<path d="M3,464h1v1h-1zM4,463h1v1h-1zM5,462h1v1h-1zM8,458h1v1h-1zM9,457h1v1h-1zM10,456h1v1h-1zM14,452h1v1h-1zM15,451h1v1h-1zM16,450h1v1h-1zM20,447h1v1h-1zM21,448h2v1h-2zM26,450h3v1h-3zM32,452h1v1h-1zM33,453h2v1h-2zM38,455h3v1h-3zM44,456h1v1h-1zM45,457h2v1h-2zM50,459h1v1h-1zM51,460h2v1h-2zM56,462h2v1h-2zM58,463h1v1h-1zM62,463h2v1h-2zM64,464h1v1h-1zM68,464h3v1h-3zM74,464h3v1h-3zM80,462h2v1h-2zM82,461h1v1h-1zM86,458h1v1h-1zM87,457h1v1h-1zM88,456h1v1h-1zM92,451h1v2h-1zM93,450h1v1h-1zM96,446h1v1h-1zM97,445h1v1h-1zM98,444h1v1h-1zM101,441h3v1h-3zM107,439h1v1h-1zM108,440h2v1h-2zM113,443h2v1h-2zM115,444h1v1h-1zM119,444h1v1h-1zM120,445h2v1h-2zM124,443h1v1h-1zM125,442h1v1h-1zM126,441h1v1h-1zM129,437h1v1h-1zM130,435h1v2h-1zM134,434h2v1h-2zM136,435h1v1h-1zM140,436h1v1h-1zM141,437h1v1h-1zM142,438h1v1h-1zM146,442h1v1h-1zM147,443h1v1h-1zM148,444h1v1h-1zM152,447h2v1h-2zM154,448h1v1h-1zM158,451h1v1h-1zM159,452h1v1h-1zM160,453h1v1h-1zM164,455h1v1h-1zM165,456h2v1h-2zM170,458h3v1h-3zM176,460h2v1h-2zM178,461h1v1h-1zM182,460h1v1h-1zM183,459h2v1h-2zM188,457h1v1h-1zM189,458h2v1h-2zM194,460h3v1h-3zM200,462h2v1h-2zM202,463h1v1h-1zM206,464h3v1h-3zM212,465h2v1h-2zM214,466h1v1h-1zM218,467h3v1h-3zM224,468h3v1h-3zM230,469h3v1h-3zM236,470h2v1h-2zM238,471h1v1h-1zM242,472h3v1h-3zM248,473h2v1h-2zM250,474h1v1h-1zM254,475h3v1h-3zM260,476h3v1h-3zM266,477h3v1h-3zM272,476h2v1h-2zM274,475h1v1h-1zM277,472h1v1h-1zM278,470h1v2h-1zM281,466h1v1h-1zM282,464h1v2h-1zM285,459h1v2h-1zM286,458h1v1h-1zM288,454h1v1h-1zM289,452h1v2h-1zM292,447h1v2h-1zM293,446h1v1h-1zM295,441h1v2h-1zM296,440h1v1h-1zM298,435h1v2h-1zM299,434h1v1h-1zM303,429h1v2h-1zM304,428h1v1h-1zM308,424h1v1h-1zM309,423h1v1h-1zM310,422h1v1h-1zM313,418h1v1h-1zM314,417h1v1h-1zM315,416h1v1h-1zM319,419h1v1h-1zM320,420h1v1h-1zM321,421h1v1h-1zM325,424h3v1h-3zM331,426h1v1h-1zM332,427h1v1h-1zM333,428h1v1h-1zM337,432h1v1h-1zM338,433h1v1h-1zM339,434h1v1h-1zM343,437h1v1h-1zM344,438h2v1h-2zM349,441h1v1h-1zM350,442h1v1h-1zM351,443h1v1h-1zM355,446h2v1h-2zM357,447h1v1h-1zM361,449h2v1h-2zM363,450h1v1h-1zM367,448h1v1h-1zM368,447h1v1h-1zM369,446h1v1h-1zM373,446h3v1h-3zM379,448h1v1h-1zM380,447h1v1h-1zM381,446h1v1h-1zM385,443h1v1h-1zM386,442h1v1h-1zM387,441h1v1h-1zM391,443h1v1h-1zM392,444h1v1h-1zM393,445h1v1h-1zM397,447h2v1h-2zM399,448h1v1h-1zM403,450h2v1h-2zM405,449h1v1h-1zM409,448h1v1h-1zM410,447h2v1h-2zM415,449h1v1h-1zM416,450h1v1h-1zM417,451h1v1h-1zM421,451h3v1h-3zM427,449h2v1h-2zM429,450h1v1h-1zM433,451h1v1h-1zM434,452h2v1h-2zM439,454h2v1h-2zM441,455h1v1h-1zM444,454h1v1h-1zM445,453h1v1h-1zM446,452h1v1h-1zM449,448h1v1h-1zM450,446h1v2h-1zM454,446h1v1h-1zM455,447h2v1h-2zM460,450h2v1h-2zM462,451h1v1h-1zM466,453h1v1h-1zM467,454h2v1h-2zM472,456h1v1h-1zM473,457h2v1h-2zM478,459h2v1h-2zM480,460h1v1h-1zM484,461h1v1h-1zM485,462h2v1h-2zM490,464h3v1h-3zM496,465h2v1h-2zM498,466h1v1h-1zM502,467h3v1h-3zM508,468h2v1h-2zM510,469h1v1h-1zM514,470h3v1h-3zM520,470h3v1h-3zM526,470h2v1h-2zM528,469h1v1h-1zM532,469h2v1h-2zM534,468h1v1h-1zM538,467h3v1h-3zM544,465h1v1h-1zM545,464h2v1h-2zM550,463h2v1h-2zM552,462h1v1h-1zM556,462h2v1h-2zM558,463h1v1h-1zM562,464h2v1h-2zM564,463h1v1h-1zM567,459h1v1h-1zM568,458h1v1h-1zM569,457h1v1h-1zM573,456h3v1h-3zM579,458h3v1h-3zM585,457h3v1h-3zM591,458h3v1h-3zM597,458h1v1h-1zM598,457h1v1h-1zM599,456h1v1h-1zM603,453h1v1h-1zM604,454h2v1h-2zM609,457h2v1h-2zM611,458h1v1h-1zM615,460h2v1h-2zM617,461h1v1h-1zM621,462h1v1h-1zM622,463h2v1h-2zM627,464h1v1h-1zM628,463h1v1h-1zM629,462h1v1h-1zM632,458h1v1h-1zM633,456h1v2h-1zM636,452h1v1h-1zM637,450h1v2h-1zM639,446h1v1h-1zM640,444h1v2h-1zM642,440h1v1h-1zM643,438h1v2h-1zM645,434h1v1h-1zM646,432h1v2h-1zM648,428h1v1h-1zM649,426h1v2h-1zM651,422h1v1h-1zM652,423h1v1h-1zM653,424h1v1h-1zM657,427h1v1h-1zM658,428h1v1h-1zM659,429h1v1h-1zM663,432h1v1h-1zM664,433h2v1h-2zM669,437h1v1h-1zM670,438h2v1h-2zM675,442h2v1h-2zM677,443h1v1h-1zM681,445h2v1h-2zM683,446h1v1h-1zM687,446h1v1h-1zM688,445h2v1h-2zM693,446h1v1h-1zM694,447h1v1h-1zM695,448h1v1h-1zM699,451h3v1h-3zM705,452h3v1h-3zM711,454h2v1h-2zM713,455h1v1h-1zM716,454h1v1h-1zM717,453h1v1h-1zM718,452h1v1h-1zM720,448h1v1h-1zM721,447h1v1h-1zM722,446h1v1h-1zM724,442h1v1h-1zM725,440h1v2h-1zM727,436h1v1h-1zM728,434h1v2h-1zM730,430h1v1h-1zM731,429h1v1h-1zM732,430h1v1h-1zM736,433h2v1h-2zM738,434h1v1h-1zM742,437h2v1h-2zM744,438h1v1h-1zM748,441h2v1h-2zM750,442h1v1h-1zM754,445h1v1h-1zM755,446h1v1h-1zM756,447h1v1h-1zM760,449h1v1h-1zM761,450h2v1h-2zM766,452h1v1h-1zM767,453h2v1h-2zM772,455h1v1h-1zM773,454h2v1h-2zM778,452h1v1h-1zM779,451h2v1h-2zM784,450h2v1h-2zM786,449h1v1h-1zM790,450h2v1h-2zM792,451h1v1h-1zM796,452h1v1h-1zM797,451h2v1h-2zM802,449h1v1h-1zM803,448h2v1h-2zM808,450h2v1h-2zM810,451h1v1h-1zM814,452h2v1h-2zM816,453h1v1h-1zM820,454h2v1h-2zM822,453h1v1h-1zM826,452h3v1h-3zM832,454h1v1h-1zM833,455h2v1h-2zM838,458h2v1h-2zM840,459h1v1h-1zM844,460h2v1h-2zM846,459h1v1h-1zM850,457h1v1h-1zM851,456h1v1h-1zM852,455h1v1h-1zM855,451h1v1h-1zM856,450h1v1h-1zM857,449h1v1h-1zM860,444h1v2h-1zM861,443h1v1h-1zM863,439h1v1h-1zM864,437h1v2h-1zM866,433h1v1h-1zM867,431h1v2h-1zM869,427h1v1h-1zM870,425h1v2h-1zM872,421h1v1h-1zM873,419h1v2h-1zM876,414h1v2h-1zM877,413h1v1h-1zM880,409h1v1h-1zM881,408h1v1h-1zM882,407h1v1h-1zM885,403h1v1h-1zM886,402h1v1h-1zM887,401h1v1h-1zM890,397h1v1h-1zM891,396h1v1h-1zM892,395h1v1h-1zM895,391h1v1h-1zM896,390h1v1h-1zM897,389h1v1h-1zM901,389h1v1h-1zM902,390h1v1h-1zM903,391h1v1h-1zM907,395h1v1h-1z" fill="#F5DEB3"/>
<path d="M3,414h1v1h-1zM4,415h1v1h-1zM5,416h1v1h-1zM8,420h1v1h-1zM9,421h1v1h-1zM10,422h1v1h-1zM14,426h1v1h-1zM15,427h1v2h-1zM19,432h1v1h-1zM20,433h2v1h-2zM25,436h1v1h-1zM26,437h1v1h-1zM27,438h1v1h-1zM29,434h1v1h-1zM30,432h1v2h-1zM33,427h1v2h-1zM34,426h1v1h-1zM37,425h1v1h-1zM38,426h1v1h-1zM39,427h1v1h-1zM43,430h1v1h-1zM44,431h1v1h-1zM45,432h1v1h-1zM49,436h1v1h-1zM50,437h1v1h-1zM51,438h1v1h-1zM53,433h1v2h-1zM54,432h1v1h-1zM56,427h1v2h-1zM57,426h1v1h-1zM59,422h1v1h-1zM60,423h1v1h-1zM61,424h1v1h-1zM65,428h1v1h-1zM66,429h1v1h-1zM67,430h1v1h-1zM71,433h1v1h-1zM72,434h2v1h-2zM77,434h1v1h-1zM78,433h1v1h-1zM79,432h1v1h-1zM82,428h1v1h-1zM83,427h1v1h-1zM84,428h1v1h-1zM88,430h1v1h-1zM89,431h2v1h-2zM94,435h1v1h-1zM95,436h1v2h-1zM99,441h2v1h-2zM101,442h1v1h-1zM105,443h1v1h-1zM106,444h2v1h-2zM111,444h3v1h-3zM117,445h2v1h-2zM119,446h1v1h-1zM123,448h2v1h-2zM125,449h1v1h-1zM129,451h2v1h-2zM131,452h1v1h-1zM135,453h3v1h-3zM140,452h1v1h-1zM141,450h1v2h-1zM144,446h1v1h-1zM145,444h1v2h-1zM148,441h3v1h-3zM154,442h3v1h-3zM160,441h3v1h-3zM166,441h2v1h-2zM168,442h1v1h-1zM172,440h1v2h-1zM173,439h1v1h-1zM175,435h1v1h-1zM176,434h1v1h-1zM177,433h1v1h-1zM179,429h1v1h-1zM180,430h1v1h-1zM181,431h1v1h-1zM185,434h1v1h-1zM186,435h1v1h-1zM187,436h1v1h-1zM191,433h1v1h-1zM192,432h2v1h-2zM197,428h1v1h-1zM198,427h1v1h-1zM199,426h1v1h-1zM203,422h1v1h-1zM204,421h2v1h-2zM209,418h1v1h-1zM210,417h1v1h-1zM211,416h1v1h-1zM215,419h1v1h-1zM216,420h2v1h-2zM221,423h2v1h-2zM223,424h1v1h-1zM227,426h3v1h-3zM233,427h1v1h-1zM234,428h2v1h-2zM239,425h1v1h-1zM240,424h2v1h-2zM245,421h1v1h-1zM246,420h1v1h-1zM247,419h1v1h-1zM251,416h1v1h-1zM252,415h2v1h-2zM257,412h1v1h-1zM258,411h1v1h-1zM259,410h1v1h-1zM263,410h1v1h-1zM264,409h2v1h-2zM269,410h1v1h-1zM270,411h2v1h-2zM275,414h1v1h-1zM276,415h1v1h-1zM277,416h1v1h-1zM280,420h1v1h-1zM281,421h1v2h-1zM285,426h1v1h-1zM286,427h1v1h-1zM287,428h1v1h-1zM291,432h1v1h-1zM292,433h1v1h-1zM293,434h1v1h-1zM297,437h1v1h-1zM298,438h1v1h-1zM299,439h1v1h-1zM303,442h1v1h-1zM304,443h2v1h-2zM309,446h1v1h-1zM310,447h2v1h-2zM315,450h1v1h-1zM316,451h2v1h-2zM321,454h1v1h-1zM322,455h1v1h-1zM323,456h1v1h-1zM327,456h1v1h-1zM328,457h2v1h-2zM333,456h1v1h-1zM334,455h2v1h-2zM339,452h3v1h-3zM345,451h3v1h-3zM350,447h1v1h-1zM351,445h1v2h-1zM354,441h1v1h-1zM355,439h1v2h-1zM357,435h1v1h-1zM358,433h1v2h-1zM360,429h1v1h-1zM361,427h1v2h-1zM364,425h2v1h-2zM366,426h1v1h-1zM370,429h1v1h-1zM371,430h1v1h-1zM372,429h1v1h-1zM376,427h1v1h-1zM377,426h2v1h-2zM382,427h1v1h-1zM383,428h1v1h-1zM384,429h1v1h-1zM388,430h1v1h-1zM389,429h1v1h-1zM390,428h1v1h-1zM394,425h1v1h-1zM395,424h1v1h-1zM396,425h1v1h-1zM400,428h1v1h-1zM401,429h1v1h-1zM402,430h1v1h-1zM406,434h2v1h-2zM408,435h1v1h-1zM412,438h2v1h-2zM414,439h1v1h-1zM418,440h3v1h-3zM424,442h1v1h-1zM425,443h2v1h-2zM429,441h1v1h-1zM430,440h1v1h-1zM431,439h1v1h-1zM434,435h1v1h-1zM435,434h1v1h-1zM436,433h1v1h-1zM438,428h1v2h-1zM439,427h1v1h-1zM441,423h1v1h-1zM442,421h1v2h-1zM446,423h2v1h-2zM448,424h1v1h-1zM452,428h1v1h-1zM453,429h1v1h-1zM454,430h1v1h-1zM458,433h1v1h-1zM459,434h1v1h-1zM460,435h1v1h-1zM464,437h1v1h-1zM465,438h2v1h-2zM470,438h3v1h-3zM476,437h1v1h-1zM477,438h2v1h-2zM482,440h1v1h-1zM483,441h1v1h-1zM484,440h1v1h-1zM488,437h1v1h-1zM489,436h1v1h-1zM490,435h1v1h-1zM494,431h1v1h-1zM495,430h1v1h-1zM496,429h1v1h-1zM500,425h1v1h-1zM501,424h1v1h-1zM502,423h1v1h-1zM506,419h1v1h-1zM507,418h1v1h-1zM508,417h1v1h-1zM512,413h1v1h-1zM513,412h1v1h-1zM514,411h1v1h-1zM517,407h1v1h-1zM518,406h1v1h-1zM519,405h1v1h-1zM522,401h1v1h-1zM523,400h1v1h-1zM524,401h1v1h-1zM527,405h1v1h-1zM528,406h1v1h-1zM529,407h1v1h-1zM532,407h1v1h-1zM533,406h1v1h-1zM534,405h1v1h-1zM537,401h1v1h-1zM538,399h1v2h-1zM541,401h1v1h-1zM542,402h1v1h-1zM543,403h1v1h-1zM546,407h1v1h-1zM547,408h1v1h-1zM548,409h1v1h-1zM551,413h1v1h-1zM552,414h1v1h-1zM553,415h1v1h-1zM556,419h1v1h-1zM557,420h1v2h-1zM561,425h1v2h-1zM562,427h1v1h-1zM566,431h1v1h-1zM567,432h1v1h-1zM568,433h1v1h-1zM572,437h1v1h-1zM573,438h1v1h-1zM574,439h1v1h-1zM578,442h1v1h-1zM579,443h2v1h-2zM584,445h1v1h-1zM585,446h2v1h-2zM590,447h2v1h-2zM592,446h1v1h-1zM596,447h2v1h-2zM598,448h1v1h-1zM602,450h1v1h-1zM603,451h1v1h-1zM604,450h1v1h-1zM608,447h1v1h-1zM609,446h1v1h-1zM610,445h1v1h-1zM613,440h1v2h-1zM614,439h1v1h-1zM617,434h1v2h-1zM618,433h1v1h-1zM621,431h1v1h-1zM622,430h2v1h-2zM627,429h1v1h-1zM628,430h2v1h-2zM633,433h1v1h-1zM634,434h1v1h-1zM635,435h1v1h-1zM639,438h1v1h-1zM640,439h1v1h-1zM641,440h1v1h-1zM645,443h1v1h-1zM646,444h2v1h-2zM651,447h1v1h-1zM652,446h2v1h-2zM657,443h1v1h-1zM658,442h1v1h-1zM659,441h1v1h-1zM662,436h1v2h-1zM663,435h1v1h-1zM666,430h1v2h-1zM667,429h1v1h-1zM671,431h2v1h-2zM673,432h1v1h-1zM677,434h1v1h-1zM678,435h2v1h-2zM683,438h1v1h-1zM684,439h2v1h-2zM689,442h1v1h-1zM690,443h1v1h-1zM691,444h1v1h-1zM695,447h1v1h-1zM696,448h2v1h-2zM701,448h1v1h-1zM702,447h1v1h-1zM703,446h1v1h-1zM707,442h2v1h-2zM709,441h1v1h-1zM713,439h2v1h-2zM715,438h1v1h-1zM719,441h1v1h-1zM720,442h2v1h-2zM725,445h1v1h-1zM726,446h1v1h-1zM727,447h1v1h-1zM731,450h2v1h-2zM733,451h1v1h-1zM737,453h2v1h-2zM739,454h1v1h-1zM743,454h1v1h-1zM744,455h2v1h-2zM749,454h2v1h-2zM751,453h1v1h-1zM755,451h1v1h-1zM756,449h1v2h-1zM759,445h1v1h-1zM760,444h1v1h-1zM761,443h1v1h-1zM764,441h2v1h-2zM766,442h1v1h-1zM770,444h1v1h-1zM771,445h1v1h-1zM772,446h1v1h-1zM776,448h1v1h-1zM777,449h2v1h-2zM782,451h3v1h-3zM788,452h3v1h-3zM794,453h3v1h-3zM800,455h2v1h-2zM802,456h1v1h-1zM806,457h3v1h-3zM812,458h2v1h-2zM814,459h1v1h-1zM818,460h3v1h-3zM824,461h2v1h-2zM826,462h1v1h-1zM830,463h3v1h-3zM836,463h1v1h-1zM837,461h1v2h-1zM841,456h1v2h-1zM842,455h1v1h-1zM846,454h2v1h-2zM848,455h1v1h-1zM852,456h2v1h-2zM854,457h1v1h-1zM858,459h1v1h-1zM859,460h2v1h-2zM864,462h2v1h-2zM866,463h1v1h-1zM870,464h3v1h-3zM876,465h2v1h-2zM878,466h1v1h-1zM882,467h3v1h-3zM888,469h2v1h-2zM890,470h1v1h-1zM894,471h3v1h-3zM900,472h3v1h-3zM906,471h2v1h-2z" fill="#9ACD32"/>
</g>
<path d="M3,386h2v1h-2zM5,387h2v1h-2zM7,388h2v1h-2zM9,389h2v1h-2zM11,390h1v1h-1zM12,391h1v1h-1zM13,392h1v1h-1zM14,393h1v1h-1zM15,394h1v1h-1zM16,395h1v1h-1zM17,396h1v1h-1zM18,397h1v1h-1zM19,398h1v1h-1zM20,399h1v1h-1zM21,400h1v1h-1zM22,401h2v1h-2zM24,402h1v1h-1zM25,403h1v1h-1zM26,404h1v1h-1zM27,405h5v1h-5zM32,406h5v1h-5zM37,407h3v1h-3zM40,408h2v1h-2zM42,409h4v1h-4zM46,410h4v1h-4zM50,411h3v1h-3zM53,410h3v1h-3zM56,409h2v1h-2zM58,408h3v1h-3zM61,407h3v1h-3zM64,406h2v1h-2zM66,405h6v1h-6zM72,406h5v1h-5zM77,405h2v1h-2zM79,404h2v1h-2zM81,403h2v1h-2zM83,402h3v1h-3zM86,403h4v1h-4zM90,404h2v1h-2zM92,405h1v1h-1zM93,406h1v2h-1zM94,408h1v1h-1zM95,409h1v1h-1zM96,410h1v1h-1zM97,411h1v2h-1zM98,413h1v1h-1zM99,414h1v1h-1zM100,415h1v1h-1zM101,416h1v1h-1zM102,417h2v1h-2zM104,418h1v1h-1zM105,419h1v1h-1zM106,420h1v1h-1zM107,421h1v1h-1zM108,422h1v1h-1zM109,423h1v1h-1zM110,424h2v1h-2zM112,425h1v1h-1zM113,426h1v1h-1zM114,427h1v1h-1zM115,428h1v1h-1zM116,429h1v1h-1zM117,430h1v1h-1zM118,431h2v1h-2zM120,432h1v1h-1zM121,433h1v1h-1zM122,434h1v1h-1zM123,435h5v1h-5zM128,436h8v1h-8zM136,437h5v1h-5zM141,438h2v1h-2zM143,439h2v1h-2zM145,440h2v1h-2zM147,441h2v1h-2zM149,442h3v1h-3zM152,443h2v1h-2zM154,444h6v1h-6zM160,445h8v1h-8zM168,444h4v1h-4zM172,443h2v1h-2zM174,442h1v1h-1zM175,441h1v1h-1zM176,440h2v1h-2zM178,439h1v1h-1zM179,438h5v1h-5zM184,437h5v1h-5zM189,436h2v1h-2zM191,435h2v1h-2zM193,434h2v1h-2zM195,433h1v1h-1zM196,432h2v1h-2zM198,431h2v1h-2zM200,430h1v1h-1zM201,429h2v1h-2zM203,428h1v1h-1zM204,427h1v1h-1zM205,426h1v1h-1zM206,425h1v1h-1zM207,424h1v1h-1zM208,423h1v1h-1zM209,422h1v1h-1zM210,421h1v1h-1zM211,420h1v1h-1zM212,419h2v1h-2zM214,418h2v1h-2zM216,417h1v1h-1zM217,416h2v1h-2zM219,415h1v1h-1zM220,414h2v1h-2zM222,413h2v1h-2zM224,412h1v1h-1zM225,411h2v1h-2zM227,410h1v1h-1zM228,409h1v1h-1zM229,408h1v1h-1zM230,407h2v1h-2zM232,406h1v1h-1zM233,405h1v1h-1zM234,404h1v1h-1zM235,403h1v1h-1zM236,402h2v1h-2zM238,401h1v1h-1zM239,400h1v1h-1zM240,399h2v1h-2zM242,398h1v1h-1zM243,397h1v1h-1zM244,396h1v1h-1zM245,395h1v1h-1zM246,394h2v1h-2zM248,393h1v1h-1zM249,392h1v1h-1zM250,391h1v1h-1zM251,390h1v1h-1zM252,389h1v1h-1zM253,388h1v1h-1zM254,387h2v1h-2zM256,386h1v1h-1zM257,385h1v1h-1zM258,384h1v1h-1zM259,383h1v1h-1zM260,382h1v1h-1zM261,381h1v1h-1zM262,380h1v1h-1zM263,379h1v1h-1zM264,378h1v1h-1zM265,377h1v1h-1zM266,376h1v1h-1zM267,375h1v1h-1zM268,374h1v1h-1zM269,373h1v1h-1zM270,372h2v1h-2zM272,371h1v1h-1zM273,370h1v1h-1zM274,369h1v1h-1zM275,368h2v1h-2zM277,369h3v1h-3zM280,370h2v1h-2zM282,371h2v1h-2zM284,372h1v2h-1zM285,374h1v1h-1zM286,375h1v2h-1zM287,377h1v1h-1zM288,378h1v2h-1zM289,380h1v1h-1zM290,381h1v2h-1zM291,383h1v1h-1zM292,384h1v2h-1zM293,386h1v1h-1zM294,387h1v1h-1zM295,388h1v2h-1zM296,390h1v1h-1zM297,391h1v1h-1zM298,392h1v2h-1zM299,394h1v1h-1zM300,395h1v1h-1zM301,396h1v1h-1zM302,397h2v1h-2zM304,398h1v1h-1zM305,399h1v1h-1zM306,400h1v1h-1zM307,401h3v1h-3zM310,402h4v1h-4zM314,403h4v1h-4zM318,404h4v1h-4zM322,405h10v1h-10zM332,406h2v1h-2zM334,407h1v1h-1zM335,408h1v1h-1zM336,409h2v1h-2zM338,410h1v1h-1zM339,411h1v1h-1zM340,412h2v1h-2zM342,413h2v1h-2zM344,414h1v1h-1zM345,415h2v1h-2zM347,416h1v1h-1zM348,417h1v1h-1zM349,418h1v1h-1zM350,419h2v1h-2zM352,420h1v1h-1zM353,421h1v1h-1zM354,422h1v1h-1zM355,423h10v1h-10zM365,424h2v1h-2zM367,425h2v1h-2zM369,426h2v1h-2zM371,427h3v1h-3zM374,428h4v1h-4zM378,429h3v1h-3zM381,430h2v1h-2zM383,431h2v1h-2zM385,432h2v1h-2zM387,433h5v1h-5zM392,434h8v1h-8zM400,435h5v1h-5zM405,436h2v1h-2zM407,437h2v1h-2zM409,438h2v1h-2zM411,439h3v1h-3zM414,440h4v1h-4zM418,441h3v1h-3zM421,442h2v1h-2zM423,443h2v1h-2zM425,444h2v1h-2zM427,445h9v1h-9zM436,444h2v1h-2zM438,443h1v1h-1zM439,442h1v1h-1zM440,441h2v1h-2zM442,440h1v1h-1zM443,439h3v1h-3zM446,440h4v1h-4zM450,441h6v1h-6zM456,442h8v1h-8zM464,443h6v1h-6zM470,442h4v1h-4zM474,441h4v1h-4zM478,440h4v1h-4zM482,439h2v1h-2zM484,438h2v1h-2zM486,437h2v1h-2zM488,436h1v1h-1zM489,435h2v1h-2zM491,434h1v1h-1zM492,433h1v1h-1zM493,432h1v1h-1zM494,431h2v1h-2zM496,430h1v1h-1zM497,429h1v1h-1zM498,428h1v1h-1zM499,427h1v1h-1zM500,426h1v1h-1zM501,425h1v1h-1zM502,424h1v1h-1zM503,423h1v1h-1zM504,422h1v1h-1zM505,421h1v1h-1zM506,420h1v1h-1zM507,419h1v1h-1zM508,418h1v1h-1zM509,417h1v1h-1zM510,416h1v1h-1zM511,414h1v2h-1zM512,413h1v1h-1zM513,412h1v1h-1zM514,411h1v1h-1zM515,410h1v1h-1zM516,409h1v1h-1zM517,408h1v1h-1zM518,407h1v1h-1zM519,405h1v2h-1zM520,404h1v1h-1zM521,403h1v1h-1zM522,402h1v1h-1zM523,401h1v1h-1zM524,400h1v1h-1zM525,398h1v2h-1zM526,397h1v1h-1zM527,396h1v1h-1zM528,395h1v1h-1zM529,393h1v2h-1zM530,392h1v1h-1zM531,391h1v1h-1zM532,390h1v1h-1zM533,389h1v1h-1zM534,388h1v1h-1zM535,386h1v2h-1zM536,385h1v1h-1zM537,384h1v1h-1zM538,383h1v1h-1zM539,382h5v1h-5zM544,381h8v1h-8zM552,382h6v1h-6zM558,383h4v1h-4zM562,384h2v1h-2zM564,385h1v1h-1zM565,386h1v1h-1zM566,387h2v1h-2zM568,388h1v1h-1zM569,389h1v1h-1zM570,390h1v1h-1zM571,391h1v1h-1zM572,392h2v1h-2zM574,393h1v1h-1zM575,394h1v1h-1zM576,395h2v1h-2zM578,396h1v1h-1zM579,397h1v1h-1zM580,398h1v1h-1zM581,399h1v1h-1zM582,400h1v1h-1zM583,401h1v1h-1zM584,402h1v1h-1zM585,403h1v1h-1zM586,404h1v1h-1zM587,405h2v1h-2zM589,406h2v1h-2zM591,407h2v1h-2zM593,408h2v1h-2zM595,409h1v1h-1zM596,410h1v1h-1zM597,411h1v1h-1zM598,412h1v1h-1zM599,413h1v1h-1zM600,414h1v1h-1zM601,415h1v1h-1zM602,416h1v1h-1zM603,417h2v1h-2zM605,418h2v1h-2zM607,419h2v1h-2zM609,420h2v1h-2zM611,421h3v1h-3zM614,420h4v1h-4zM618,419h3v1h-3zM621,418h2v1h-2zM623,417h2v1h-2zM625,416h2v1h-2zM627,415h2v1h-2zM629,416h3v1h-3zM632,417h2v1h-2zM634,418h2v1h-2zM636,419h1v1h-1zM637,420h1v1h-1zM638,421h1v1h-1zM639,422h1v1h-1zM640,423h1v1h-1zM641,424h1v1h-1zM642,425h1v1h-1zM643,426h9v1h-9zM652,427h2v1h-2zM654,428h2v1h-2zM656,429h1v1h-1zM657,430h2v1h-2zM659,431h1v1h-1zM660,432h2v1h-2zM662,433h2v1h-2zM664,434h1v1h-1zM665,435h2v1h-2zM667,436h2v1h-2zM669,437h2v1h-2zM671,438h2v1h-2zM673,439h2v1h-2zM675,440h2v1h-2zM677,441h3v1h-3zM680,442h2v1h-2zM682,443h3v1h-3zM685,444h2v1h-2zM687,445h2v1h-2zM689,446h2v1h-2zM691,447h1v1h-1zM692,448h2v1h-2zM694,449h2v1h-2zM696,450h1v1h-1zM697,451h2v1h-2zM699,452h10v1h-10zM709,451h3v1h-3zM712,450h2v1h-2zM714,449h3v1h-3zM717,450h3v1h-3zM720,451h2v1h-2zM722,452h4v1h-4zM726,451h4v1h-4zM730,450h4v1h-4zM734,449h4v1h-4zM738,448h11v1h-11zM749,449h3v1h-3zM752,450h2v1h-2zM754,451h19v1h-19zM773,452h3v1h-3zM776,453h2v1h-2zM778,454h6v1h-6zM784,455h5v1h-5zM789,456h3v1h-3zM792,457h2v1h-2zM794,458h20v1h-20zM814,459h4v1h-4zM818,460h6v1h-6zM824,459h8v1h-8zM832,458h8v1h-8zM840,457h5v1h-5zM845,458h3v1h-3zM848,459h2v1h-2zM850,460h3v1h-3zM853,459h2v1h-2zM855,458h2v1h-2zM857,457h2v1h-2zM859,456h1v1h-1zM860,455h1v1h-1zM861,454h1v1h-1zM862,453h2v1h-2zM864,452h1v1h-1zM865,451h1v1h-1zM866,450h1v1h-1zM867,449h1v1h-1zM868,447h1v2h-1zM869,446h1v1h-1zM870,444h1v2h-1zM871,443h1v1h-1zM872,441h1v2h-1zM873,440h1v1h-1zM874,438h1v2h-1zM875,437h1v1h-1zM876,435h1v2h-1zM877,434h1v1h-1zM878,432h1v2h-1zM879,431h1v1h-1zM880,429h1v2h-1zM881,428h1v1h-1zM882,426h1v2h-1zM883,425h1v1h-1zM884,423h1v2h-1zM885,422h1v1h-1zM886,421h1v1h-1zM887,419h1v2h-1zM888,418h1v1h-1zM889,417h1v1h-1zM890,415h1v2h-1zM891,414h1v1h-1zM892,413h1v1h-1zM893,411h1v2h-1zM894,410h1v1h-1zM895,409h1v1h-1zM896,408h1v1h-1zM897,406h1v2h-1zM898,405h1v1h-1zM899,404h1v1h-1zM900,403h1v1h-1zM901,402h1v1h-1zM902,401h1v1h-1zM903,400h1v1h-1zM904,399h1v1h-1zM905,398h1v1h-1zM906,397h1v1h-1zM907,396h1v1h-1z" fill="#FF0000" shape-rendering="crispEdges"/>
<g shape-rendering="crispEdges" fill="#000080">
<rect x="2" y="2" width="959" height="1"/>
<rect x="2" y="241" width="959" height="1"/>
<rect x="2" y="2" width="1" height="240"/>
<rect x="960" y="2" width="1" height="240"/>
<rect x="2" y="243" width="959" height="1"/>
<rect x="2" y="362" width="959" height="1"/>
<rect x="2" y="243" width="1" height="120"/>
<rect x="960" y="243" width="1" height="120"/>
<rect x="2" y="364" width="959" height="1"/>
<rect x="2" y="482" width="959" height="1"/>
<rect x="2" y="364" width="1" height="119"/>
<rect x="960" y="364" width="1" height="119"/>
<rect x="961" y="7" width="2" height="1"/>
<rect x="961" y="40" width="2" height="1"/>
<rect x="961" y="73" width="2" height="1"/>
<rect x="961" y="106" width="2" height="1"/>
<rect x="961" y="139" width="2" height="1"/>
<rect x="961" y="172" width="2" height="1"/>
<rect x="961" y="205" width="2" height="1"/>
<rect x="961" y="238" width="2" height="1"/>
<rect x="961" y="245" width="1" height="1"/>
<rect x="961" y="361" width="1" height="1"/>
<rect x="961" y="366" width="1" height="1"/>
<rect x="961" y="481" width="1" height="1"/>
<rect x="3" y="483" width="1" height="3"/>
<rect x="67" y="483" width="1" height="3"/>
<rect x="131" y="483" width="1" height="3"/>
<rect x="195" y="483" width="1" height="3"/>
<rect x="259" y="483" width="1" height="3"/>
<rect x="323" y="483" width="1" height="3"/>
<rect x="387" y="483" width="1" height="3"/>
<rect x="451" y="483" width="1" height="3"/>
<rect x="515" y="483" width="1" height="3"/>
<rect x="579" y="483" width="1" height="3"/>
<rect x="643" y="483" width="1" height="3"/>
<rect x="707" y="483" width="1" height="3"/>
<rect x="771" y="483" width="1" height="3"/>
<rect x="835" y="483" width="1" height="3"/>
<rect x="899" y="483" width="1" height="3"/>
</g>
<text transform="translate(966 9.9) scale(1 1)" textLength="27" lengthAdjust="spacingAndGlyphs">151.40</text>
<text transform="translate(966 42.9) scale(1 1)" textLength="27" lengthAdjust="spacingAndGlyphs">134.90</text>
<text transform="translate(966 75.9) scale(1 1)" textLength="27" lengthAdjust="spacingAndGlyphs">117.90</text>
<text transform="translate(966 108.9) scale(1 1)" textLength="27" lengthAdjust="spacingAndGlyphs">101.40</text>
<text transform="translate(966 141.9) scale(1 1)" textLength="22.5" lengthAdjust="spacingAndGlyphs">84.90</text>
<text transform="translate(966 174.9) scale(1 1)" textLength="22.5" lengthAdjust="spacingAndGlyphs">67.90</text>
<text transform="translate(966 207.9) scale(1 1)" textLength="22.5" lengthAdjust="spacingAndGlyphs">51.40</text>
<text transform="translate(966 240.9) scale(1 1)" textLength="22.5" lengthAdjust="spacingAndGlyphs">34.90</text>
<text transform="translate(964.5 254) scale(1 1)" textLength="14.5" lengthAdjust="spacingAndGlyphs">100</text>
<text transform="translate(963.7 283) scale(1 1)" textLength="9.5" lengthAdjust="spacingAndGlyphs">70</text>
<text transform="translate(963.7 329.3) scale(1 1)" textLength="9.5" lengthAdjust="spacingAndGlyphs">30</text>
<text transform="translate(964 359) scale(1 1)" textLength="4.8" lengthAdjust="spacingAndGlyphs">0</text>
<text transform="translate(964 375) scale(1 1)" textLength="9.8" lengthAdjust="spacingAndGlyphs">62</text>
<text transform="translate(964.6 479) scale(1 1)" textLength="4" lengthAdjust="spacingAndGlyphs">1</text>
<text transform="translate(2.4 495) scale(1 1)" textLength="46.4" lengthAdjust="spacingAndGlyphs">1 Sep 2005</text>
<text transform="translate(66.4 495) scale(1 1)" textLength="48.9" lengthAdjust="spacingAndGlyphs">1 May 2006</text>
<text transform="translate(130.4 495) scale(1 1)" textLength="43.9" lengthAdjust="spacingAndGlyphs">1 Jan 2007</text>
<text transform="translate(194.4 495) scale(1 1)" textLength="46.4" lengthAdjust="spacingAndGlyphs">1 Sep 2007</text>
<text transform="translate(258.4 495) scale(1 1)" textLength="48.9" lengthAdjust="spacingAndGlyphs">1 May 2008</text>
<text transform="translate(322.4 495) scale(1 1)" textLength="43.9" lengthAdjust="spacingAndGlyphs">1 Jan 2009</text>
<text transform="translate(386.4 495) scale(1 1)" textLength="46.4" lengthAdjust="spacingAndGlyphs">1 Sep 2009</text>
<text transform="translate(450.4 495) scale(1 1)" textLength="48.9" lengthAdjust="spacingAndGlyphs">1 May 2010</text>
<text transform="translate(514.4 495) scale(1 1)" textLength="43.9" lengthAdjust="spacingAndGlyphs">1 Jan 2011</text>
<text transform="translate(578.4 495) scale(1 1)" textLength="46.4" lengthAdjust="spacingAndGlyphs">1 Sep 2011</text>
<text transform="translate(642.4 495) scale(1 1)" textLength="48.9" lengthAdjust="spacingAndGlyphs">1 May 2012</text>
<text transform="translate(706.4 495) scale(1 1)" textLength="43.9" lengthAdjust="spacingAndGlyphs">1 Jan 2013</text>
<text transform="translate(770.4 495) scale(1 1)" textLength="46.4" lengthAdjust="spacingAndGlyphs">1 Sep 2013</text>
<text transform="translate(834.4 495) scale(1 1)" textLength="48.9" lengthAdjust="spacingAndGlyphs">1 May 2014</text>
<text transform="translate(898.4 495) scale(1 1)" textLength="43.9" lengthAdjust="spacingAndGlyphs">1 Jan 2015</text>
<path d="M6,9h7l-3.5,4z" fill="#000080"/>
<text transform="translate(19 14) scale(1 1)" textLength="74" lengthAdjust="spacingAndGlyphs">#BRENT,Monthly</text>
<text transform="translate(7.4 256) scale(1 1)" textLength="67.5" lengthAdjust="spacingAndGlyphs">RSI(14) 26.1328</text>
<text transform="translate(8 377.5) scale(1 1)" textLength="175" lengthAdjust="spacingAndGlyphs">ADX(14) 45.7512 +DI:6.4146 -DI:43.9685</text>
<text transform="translate(7.6 478.3) scale(1 1)" textLength="267.5" lengthAdjust="spacingAndGlyphs">FreshForex Terminal, © 2001-2014, MetaQuotes Software Corp.</text>
<rect x="962" y="107" width="31" height="11" fill="#FF0000" shape-rendering="crispEdges"/>
<text class="w" transform="translate(966.3 115.8) scale(1 1)" textLength="22.5" lengthAdjust="spacingAndGlyphs">97.65</text>
<rect x="962" y="154" width="31" height="11" fill="#FF0000" shape-rendering="crispEdges"/>
<text class="w" transform="translate(966.3 162.8) scale(1 1)" textLength="22.5" lengthAdjust="spacingAndGlyphs">74.25</text>
<rect x="962" y="184" width="31" height="11" fill="#000080" shape-rendering="crispEdges"/>
<text class="w" transform="translate(966.3 192.8) scale(1 1)" textLength="22.5" lengthAdjust="spacingAndGlyphs">58.69</text>
<rect x="962" y="197" width="31" height="11" fill="#FF0000" shape-rendering="crispEdges"/>
<text class="w" transform="translate(966.3 205.8) scale(1 1)" textLength="22.5" lengthAdjust="spacingAndGlyphs">52.05</text>
<rect x="962" y="227" width="31" height="11" fill="#0000FF" shape-rendering="crispEdges"/>
<text class="w" transform="translate(966.3 235.8) scale(1 1)" textLength="22.5" lengthAdjust="spacingAndGlyphs">36.95</text>
<g style="mix-blend-mode:multiply">
<rect x="209" y="108" width="764" height="8" fill="#FFFE98" filter="url(#bs)"/>
<rect x="54" y="155" width="908" height="5" fill="#FFFE98" filter="url(#bs)"/>
<rect x="14" y="199" width="948" height="8" fill="#FFFE98" filter="url(#bs)"/>
</g>
<clipPath id="cb"><rect x="209" y="108" width="751" height="8"/><rect x="54" y="155" width="906" height="5"/><rect x="14" y="199" width="946" height="8"/></clipPath>
<g clip-path="url(#cb)" shape-rendering="crispEdges">
<path d="M3,175h4v1h-4zM7,174h6v1h-6zM13,173h10v1h-10zM23,172h8v1h-8zM31,171h3v1h-3zM34,170h4v1h-4zM38,169h3v1h-3zM41,168h3v1h-3zM44,167h3v1h-3zM47,166h3v1h-3zM50,165h3v1h-3zM53,164h3v1h-3zM56,163h2v1h-2zM58,162h3v1h-3zM61,161h3v1h-3zM64,160h2v1h-2zM66,159h3v1h-3zM69,158h2v1h-2zM71,157h2v1h-2zM73,156h2v1h-2zM75,155h2v1h-2zM77,154h2v1h-2zM79,153h3v1h-3zM82,152h4v1h-4zM86,151h3v1h-3zM89,150h9v1h-9zM98,151h4v1h-4zM102,152h3v1h-3zM105,153h4v1h-4zM109,154h4v1h-4zM113,155h9v1h-9zM122,156h11v1h-11zM133,157h8v1h-8zM141,158h14v1h-14zM155,157h8v1h-8zM163,156h13v1h-13zM176,155h2v1h-2zM178,154h2v1h-2zM180,153h2v1h-2zM182,152h3v1h-3zM185,151h6v1h-6zM191,150h3v1h-3zM194,149h2v1h-2zM196,148h2v1h-2zM198,147h1v1h-1zM199,146h1v1h-1zM200,145h1v1h-1zM201,143h1v2h-1zM202,142h1v1h-1zM203,141h1v1h-1zM204,140h1v1h-1zM205,139h1v1h-1zM206,138h1v1h-1zM207,137h1v1h-1zM208,136h2v1h-2zM210,135h1v1h-1zM211,134h1v1h-1zM212,133h1v1h-1zM213,132h1v1h-1zM214,131h1v1h-1zM215,130h2v1h-2zM217,129h1v1h-1zM218,128h1v1h-1zM219,127h2v1h-2zM221,126h1v1h-1zM222,125h1v1h-1zM223,124h1v1h-1zM224,123h2v1h-2zM226,122h1v1h-1zM227,121h1v1h-1zM228,120h1v1h-1zM229,119h1v1h-1zM230,118h2v1h-2zM232,117h1v1h-1zM233,116h1v1h-1zM234,115h1v1h-1zM235,114h1v1h-1zM236,112h1v2h-1zM237,111h1v1h-1zM238,110h1v1h-1zM239,109h1v1h-1zM240,108h1v1h-1zM241,107h1v1h-1zM242,106h1v1h-1zM243,105h2v1h-2zM245,104h1v1h-1zM246,103h1v1h-1zM247,102h1v1h-1zM248,101h1v1h-1zM249,99h1v2h-1zM250,96h1v3h-1zM251,94h1v2h-1zM252,91h1v3h-1zM253,88h1v3h-1zM254,86h1v2h-1zM255,83h1v3h-1zM256,81h1v2h-1zM257,79h1v2h-1zM258,77h1v2h-1zM259,75h1v2h-1zM260,72h1v3h-1zM261,70h1v2h-1zM262,67h1v3h-1zM263,65h1v2h-1zM264,63h1v2h-1zM265,60h1v3h-1zM266,58h1v2h-1zM267,56h1v2h-1zM268,54h1v2h-1zM269,53h1v1h-1zM270,52h1v1h-1zM271,50h1v2h-1zM272,49h1v1h-1zM273,48h1v1h-1zM274,46h1v2h-1zM275,45h1v1h-1zM276,44h1v1h-1zM277,43h2v1h-2zM279,42h1v1h-1zM280,41h2v1h-2zM282,40h2v1h-2zM284,39h2v1h-2zM286,38h9v1h-9zM295,39h8v1h-8zM303,38h6v1h-6zM309,37h3v1h-3zM312,36h2v1h-2zM314,35h3v1h-3zM317,34h3v1h-3zM320,33h3v1h-3zM323,32h3v1h-3zM326,31h3v1h-3zM329,30h2v1h-2zM331,29h4v1h-4zM335,28h4v1h-4zM339,27h4v1h-4zM343,26h33v1h-33zM376,27h4v1h-4zM380,28h5v1h-5zM385,29h5v1h-5zM390,30h4v1h-4zM394,31h4v1h-4zM398,32h2v1h-2zM400,33h3v1h-3zM403,34h3v1h-3zM406,35h2v1h-2zM408,36h3v1h-3zM411,37h3v1h-3zM414,38h2v1h-2zM416,39h2v1h-2zM418,40h2v1h-2zM420,41h1v1h-1zM421,42h1v1h-1zM422,43h2v1h-2zM424,44h1v1h-1zM425,45h1v1h-1zM426,46h1v2h-1zM427,48h1v1h-1zM428,49h1v2h-1zM429,51h1v1h-1zM430,52h1v1h-1zM431,53h1v2h-1zM432,55h1v2h-1zM433,57h1v2h-1zM434,59h1v2h-1zM435,61h1v2h-1zM436,63h1v2h-1zM437,65h1v2h-1zM438,67h1v2h-1zM439,69h1v3h-1zM440,72h1v3h-1zM441,75h1v2h-1zM442,77h1v3h-1zM443,80h1v3h-1zM444,83h1v2h-1zM445,85h1v2h-1zM446,87h1v2h-1zM447,89h1v3h-1zM448,92h1v2h-1zM449,94h1v2h-1zM450,96h1v2h-1zM451,98h1v2h-1zM452,100h1v3h-1zM453,103h1v2h-1zM454,105h1v2h-1zM455,107h1v2h-1zM456,109h1v2h-1zM457,111h1v2h-1zM458,113h1v2h-1zM459,115h1v1h-1zM460,116h1v1h-1zM461,117h1v1h-1zM462,118h2v1h-2zM464,119h1v1h-1zM465,120h1v1h-1zM466,121h1v1h-1zM467,122h1v1h-1zM468,123h3v1h-3zM471,122h4v1h-4zM475,121h4v1h-4zM479,120h12v1h-12zM491,119h11v1h-11zM502,118h3v1h-3zM505,117h3v1h-3zM508,116h3v1h-3zM511,115h2v1h-2zM513,114h1v1h-1zM514,113h1v1h-1zM515,112h1v1h-1zM516,111h2v1h-2zM518,110h1v1h-1zM519,109h1v1h-1zM520,108h1v1h-1zM521,107h1v1h-1zM522,106h1v1h-1zM523,105h1v1h-1zM524,103h1v2h-1zM525,102h1v1h-1zM526,101h1v1h-1zM527,99h1v2h-1zM528,98h1v1h-1zM529,97h1v1h-1zM530,95h1v2h-1zM531,94h1v1h-1zM532,92h1v2h-1zM533,90h1v2h-1zM534,88h1v2h-1zM535,86h1v2h-1zM536,84h1v2h-1zM537,82h1v2h-1zM538,80h1v2h-1zM539,78h1v2h-1zM540,76h1v2h-1zM541,75h1v1h-1zM542,74h1v1h-1zM543,73h1v1h-1zM544,71h1v2h-1zM545,70h1v1h-1zM546,69h1v1h-1zM547,68h1v1h-1zM548,67h1v1h-1zM549,66h2v1h-2zM551,65h2v1h-2zM553,64h1v1h-1zM554,63h2v1h-2zM556,62h1v1h-1zM557,61h2v1h-2zM559,60h2v1h-2zM561,59h1v1h-1zM562,58h2v1h-2zM564,57h2v1h-2zM566,56h3v1h-3zM569,55h2v1h-2zM571,54h3v1h-3zM574,53h3v1h-3zM577,52h2v1h-2zM579,51h4v1h-4zM583,50h4v1h-4zM587,49h4v1h-4zM591,48h4v1h-4zM595,47h4v1h-4zM599,46h6v1h-6zM605,45h5v1h-5zM610,44h4v1h-4zM614,43h2v1h-2zM616,42h2v1h-2zM618,41h2v1h-2zM620,40h3v1h-3zM623,39h4v1h-4zM627,38h12v1h-12zM639,39h4v1h-4zM643,40h3v1h-3zM646,41h2v1h-2zM648,42h2v1h-2zM650,43h2v1h-2zM652,44h2v1h-2zM654,45h3v1h-3zM657,46h2v1h-2zM659,47h3v1h-3zM662,48h3v1h-3zM665,49h2v1h-2zM667,50h2v1h-2zM669,51h2v1h-2zM671,52h2v1h-2zM673,53h2v1h-2zM675,54h4v1h-4zM679,55h4v1h-4zM683,56h7v1h-7zM690,57h20v1h-20zM710,58h3v1h-3zM713,59h2v1h-2zM715,60h3v1h-3zM718,61h7v1h-7zM725,62h55v1h-55zM780,63h6v1h-6zM786,64h4v1h-4zM790,65h2v1h-2zM792,66h2v1h-2zM794,67h2v1h-2zM796,68h2v1h-2zM798,69h2v1h-2zM800,70h2v1h-2zM802,71h3v1h-3zM805,72h3v1h-3zM808,73h3v1h-3zM811,74h6v1h-6zM817,75h8v1h-8zM825,76h12v1h-12zM837,77h25v1h-25zM862,76h3v1h-3zM865,75h2v1h-2zM867,74h3v1h-3zM870,73h2v1h-2zM872,72h2v1h-2zM874,71h2v1h-2zM876,70h1v1h-1zM877,69h1v1h-1zM878,68h1v1h-1zM879,67h1v1h-1zM880,66h1v1h-1zM881,65h1v1h-1zM882,64h1v1h-1zM883,63h1v1h-1zM884,62h1v1h-1zM885,60h1v2h-1zM886,59h1v1h-1zM887,58h1v1h-1zM888,56h1v2h-1zM889,55h1v1h-1zM890,54h1v1h-1zM891,52h1v2h-1zM892,51h1v1h-1zM893,50h1v1h-1zM894,49h1v1h-1zM895,48h1v1h-1zM896,46h1v2h-1zM897,45h1v1h-1zM898,44h1v1h-1zM899,43h1v1h-1zM900,42h2v1h-2zM902,41h2v1h-2zM904,40h2v1h-2zM906,39h2v1h-2z" fill="#52B81A"/>
<path d="M3,218h2v1h-2zM5,217h2v1h-2zM7,216h3v1h-3zM10,215h3v1h-3zM13,214h2v1h-2zM15,213h3v1h-3zM18,212h3v1h-3zM21,211h4v1h-4zM25,210h3v1h-3zM28,209h3v1h-3zM31,208h3v1h-3zM34,207h2v1h-2zM36,206h2v1h-2zM38,205h3v1h-3zM41,204h2v1h-2zM43,203h2v1h-2zM45,202h2v1h-2zM47,201h3v1h-3zM50,200h3v1h-3zM53,199h4v1h-4zM57,198h3v1h-3zM60,197h3v1h-3zM63,196h3v1h-3zM66,195h3v1h-3zM69,194h4v1h-4zM73,193h3v1h-3zM76,192h3v1h-3zM79,191h4v1h-4zM83,190h6v1h-6zM89,189h5v1h-5zM94,188h5v1h-5zM99,187h4v1h-4zM103,186h4v1h-4zM107,185h4v1h-4zM111,184h6v1h-6zM117,183h8v1h-8zM125,182h8v1h-8zM133,181h8v1h-8zM141,180h7v1h-7zM148,179h11v1h-11zM159,178h12v1h-12zM171,177h8v1h-8zM179,176h6v1h-6zM185,175h4v1h-4zM189,174h4v1h-4zM193,173h4v1h-4zM197,172h3v1h-3zM200,171h3v1h-3zM203,170h4v1h-4zM207,169h3v1h-3zM210,168h3v1h-3zM213,167h3v1h-3zM216,166h3v1h-3zM219,165h4v1h-4zM223,164h3v1h-3zM226,163h3v1h-3zM229,162h3v1h-3zM232,161h3v1h-3zM235,160h3v1h-3zM238,159h3v1h-3zM241,158h3v1h-3zM244,157h2v1h-2zM246,156h2v1h-2zM248,155h3v1h-3zM251,154h2v1h-2zM253,153h2v1h-2zM255,152h2v1h-2zM257,151h2v1h-2zM259,150h1v1h-1zM260,149h2v1h-2zM262,148h1v1h-1zM263,147h1v1h-1zM264,146h2v1h-2zM266,145h1v1h-1zM267,144h1v1h-1zM268,143h2v1h-2zM270,142h1v1h-1zM271,141h1v1h-1zM272,140h2v1h-2zM274,139h1v1h-1zM275,138h2v1h-2zM277,137h1v1h-1zM278,136h1v1h-1zM279,135h2v1h-2zM281,134h1v1h-1zM282,133h2v1h-2zM284,132h2v1h-2zM286,131h3v1h-3zM289,130h2v1h-2zM291,129h13v1h-13zM304,130h7v1h-7zM311,131h6v1h-6zM317,132h6v1h-6zM323,133h4v1h-4zM327,134h4v1h-4zM331,135h4v1h-4zM335,136h4v1h-4zM339,137h4v1h-4zM343,138h4v1h-4zM347,139h4v1h-4zM351,140h6v1h-6zM357,141h8v1h-8zM365,142h8v1h-8zM373,143h7v1h-7zM380,144h6v1h-6zM386,145h6v1h-6zM392,146h6v1h-6zM398,147h4v1h-4zM402,148h5v1h-5zM407,149h4v1h-4zM411,150h4v1h-4zM415,151h4v1h-4zM419,152h2v1h-2zM421,153h3v1h-3zM424,154h3v1h-3zM427,155h2v1h-2zM429,156h3v1h-3zM432,157h2v1h-2zM434,158h2v1h-2zM436,159h1v1h-1zM437,160h2v1h-2zM439,161h2v1h-2zM441,162h1v1h-1zM442,163h2v1h-2zM444,164h1v1h-1zM445,165h2v1h-2zM447,166h2v1h-2zM449,167h1v1h-1zM450,168h2v1h-2zM452,169h2v1h-2zM454,170h2v1h-2zM456,171h2v1h-2zM458,172h2v1h-2zM460,173h5v1h-5zM465,174h8v1h-8zM473,173h5v1h-5zM478,172h2v1h-2zM480,171h2v1h-2zM482,170h3v1h-3zM485,169h2v1h-2zM487,168h2v1h-2zM489,167h2v1h-2zM491,166h3v1h-3zM494,165h2v1h-2zM496,164h2v1h-2zM498,163h2v1h-2zM500,162h2v1h-2zM502,161h2v1h-2zM504,160h2v1h-2zM506,159h2v1h-2zM508,158h2v1h-2zM510,157h2v1h-2zM512,156h2v1h-2zM514,155h2v1h-2zM516,154h1v1h-1zM517,153h2v1h-2zM519,152h2v1h-2zM521,151h1v1h-1zM522,150h2v1h-2zM524,149h1v1h-1zM525,148h2v1h-2zM527,147h2v1h-2zM529,146h1v1h-1zM530,145h2v1h-2zM532,144h1v1h-1zM533,143h2v1h-2zM535,142h2v1h-2zM537,141h1v1h-1zM538,140h2v1h-2zM540,139h1v1h-1zM541,138h2v1h-2zM543,137h2v1h-2zM545,136h1v1h-1zM546,135h2v1h-2zM548,134h1v1h-1zM549,133h2v1h-2zM551,132h2v1h-2zM553,131h2v1h-2zM555,130h2v1h-2zM557,129h1v1h-1zM558,128h2v1h-2zM560,127h2v1h-2zM562,126h2v1h-2zM564,125h2v1h-2zM566,124h3v1h-3zM569,123h2v1h-2zM571,122h3v1h-3zM574,121h4v1h-4zM578,120h4v1h-4zM582,119h3v1h-3zM585,118h3v1h-3zM588,117h4v1h-4zM592,116h3v1h-3zM595,115h3v1h-3zM598,114h2v1h-2zM600,113h2v1h-2zM602,112h3v1h-3zM605,111h2v1h-2zM607,110h2v1h-2zM609,109h2v1h-2zM611,108h3v1h-3zM614,107h2v1h-2zM616,106h2v1h-2zM618,105h2v1h-2zM620,104h2v1h-2zM622,103h2v1h-2zM624,102h2v1h-2zM626,101h2v1h-2zM628,100h3v1h-3zM631,99h4v1h-4zM635,98h4v1h-4zM639,97h4v1h-4zM643,96h3v1h-3zM646,95h3v1h-3zM649,94h4v1h-4zM653,93h3v1h-3zM656,92h3v1h-3zM659,91h3v1h-3zM662,90h3v1h-3zM665,89h3v1h-3zM668,88h3v1h-3zM671,87h4v1h-4zM675,86h3v1h-3zM678,85h6v1h-6zM684,84h23v1h-23zM707,85h7v1h-7zM714,86h4v1h-4zM718,87h9v1h-9zM727,88h9v1h-9zM736,89h6v1h-6zM742,90h20v1h-20zM762,89h29v1h-29zM791,90h8v1h-8zM799,91h6v1h-6zM805,92h5v1h-5zM810,93h7v1h-7zM817,92h8v1h-8zM825,91h28v1h-28zM853,92h10v1h-10zM863,93h4v1h-4zM867,94h4v1h-4zM871,95h4v1h-4zM875,96h2v1h-2zM877,97h2v1h-2zM879,98h2v1h-2zM881,99h2v1h-2zM883,100h2v1h-2zM885,101h1v1h-1zM886,102h2v1h-2zM888,103h2v1h-2zM890,104h2v1h-2zM892,105h1v1h-1zM893,106h2v1h-2zM895,107h2v1h-2zM897,108h2v1h-2zM899,109h1v1h-1zM900,110h2v1h-2zM902,111h2v1h-2zM904,112h1v1h-1zM905,113h2v1h-2zM907,114h1v1h-1z" fill="#52B81A"/>
<path d="M38,244h1v1h-1zM39,243h2v1h-2zM41,242h1v1h-1zM42,241h2v1h-2zM44,240h3v1h-3zM47,239h4v1h-4zM51,238h4v1h-4zM55,237h3v1h-3zM58,236h2v1h-2zM60,235h2v1h-2zM62,234h3v1h-3zM65,233h2v1h-2zM67,232h2v1h-2zM69,231h2v1h-2zM71,230h4v1h-4zM75,229h6v1h-6zM81,228h5v1h-5zM86,227h4v1h-4zM90,226h4v1h-4zM94,225h4v1h-4zM98,224h2v1h-2zM100,223h1v1h-1zM101,222h2v1h-2zM103,221h1v1h-1zM104,220h1v1h-1zM105,219h1v1h-1zM106,218h1v1h-1zM107,217h2v1h-2zM109,216h1v1h-1zM110,215h2v1h-2zM112,214h2v1h-2zM114,213h2v1h-2zM116,212h2v1h-2zM118,211h2v1h-2zM120,210h3v1h-3zM123,209h6v1h-6zM129,208h5v1h-5zM134,207h4v1h-4zM138,206h2v1h-2zM140,205h2v1h-2zM142,204h2v1h-2zM144,203h2v1h-2zM146,202h2v1h-2zM148,201h3v1h-3zM151,200h5v1h-5zM156,199h8v1h-8zM164,200h11v1h-11zM175,199h8v1h-8zM183,198h5v1h-5zM188,197h5v1h-5zM193,196h4v1h-4zM197,197h2v1h-2zM199,198h3v1h-3zM202,199h3v1h-3zM205,200h2v1h-2zM207,201h4v1h-4zM211,202h6v1h-6zM217,203h5v1h-5zM222,204h5v1h-5zM227,205h4v1h-4zM231,206h4v1h-4zM235,207h4v1h-4zM239,208h2v1h-2zM241,209h2v1h-2zM243,210h2v1h-2zM245,211h2v1h-2zM247,212h2v1h-2zM249,213h1v1h-1zM250,214h1v1h-1zM251,215h1v1h-1zM252,216h1v1h-1zM253,217h1v1h-1zM254,218h1v1h-1zM255,219h1v1h-1zM256,220h1v1h-1zM257,221h1v1h-1zM258,222h1v1h-1zM259,223h1v1h-1zM260,224h1v1h-1zM261,225h1v1h-1zM262,226h1v1h-1zM263,227h1v2h-1zM264,229h1v1h-1zM265,230h1v1h-1zM266,231h1v1h-1zM267,232h4v1h-4zM271,231h4v1h-4zM275,230h2v1h-2zM277,229h2v1h-2zM279,228h2v1h-2zM281,227h1v1h-1zM282,226h2v1h-2zM284,225h2v1h-2zM286,224h1v1h-1zM287,223h2v1h-2zM289,222h2v1h-2zM291,221h5v1h-5zM296,220h8v1h-8zM304,221h4v1h-4zM308,222h1v1h-1zM309,223h2v1h-2zM311,224h1v1h-1zM312,225h1v1h-1zM313,226h1v1h-1zM314,227h1v1h-1zM315,228h1v1h-1zM316,229h2v1h-2zM318,230h1v1h-1zM319,231h1v1h-1zM320,232h1v1h-1zM321,233h2v1h-2zM323,234h1v1h-1zM324,235h2v1h-2zM326,236h1v1h-1zM327,237h1v1h-1zM328,238h2v1h-2zM330,239h1v1h-1zM331,240h1v1h-1zM332,241h2v1h-2zM334,242h1v1h-1zM335,243h1v1h-1zM336,244h1v1h-1z" fill="#52B81A"/>
<path d="M445,245h1v1h-1zM446,243h1v2h-1zM447,241h1v2h-1zM448,240h1v1h-1zM449,239h1v1h-1zM450,238h2v1h-2zM452,237h1v1h-1zM453,236h1v1h-1zM454,235h1v1h-1zM455,234h1v1h-1zM456,233h1v1h-1zM457,231h1v2h-1zM458,230h1v1h-1zM459,229h1v1h-1zM460,228h2v1h-2zM462,227h2v1h-2zM464,226h2v1h-2zM466,225h6v1h-6zM472,224h6v1h-6zM478,223h2v1h-2zM480,222h2v1h-2zM482,221h2v1h-2zM484,220h1v1h-1zM485,219h1v1h-1zM486,218h2v1h-2zM488,217h1v1h-1zM489,216h1v1h-1zM490,215h1v1h-1zM491,214h1v1h-1zM492,213h2v1h-2zM494,212h1v1h-1zM495,211h1v1h-1zM496,210h1v1h-1zM497,209h1v1h-1zM498,208h1v1h-1zM499,207h2v1h-2zM501,206h1v1h-1zM502,205h1v1h-1zM503,204h1v1h-1zM504,203h1v1h-1zM505,202h1v1h-1zM506,201h2v1h-2zM508,200h1v1h-1zM509,199h1v1h-1zM510,198h1v1h-1zM511,197h1v1h-1zM512,196h2v1h-2zM514,195h1v1h-1zM515,194h1v1h-1zM516,193h2v1h-2zM518,192h3v1h-3zM521,191h3v1h-3zM524,192h3v1h-3zM527,193h2v1h-2zM529,194h2v1h-2zM531,195h2v1h-2zM533,196h2v1h-2zM535,197h1v1h-1zM536,198h2v1h-2zM538,199h6v1h-6zM544,200h6v1h-6zM550,199h3v1h-3zM553,198h2v1h-2zM555,197h4v1h-4zM559,196h3v1h-3zM562,195h3v1h-3zM565,194h3v1h-3zM568,193h3v1h-3zM571,192h3v1h-3zM574,191h3v1h-3zM577,190h4v1h-4zM581,189h3v1h-3zM584,188h2v1h-2zM586,187h2v1h-2zM588,186h1v1h-1zM589,185h1v1h-1zM590,184h2v1h-2zM592,183h1v1h-1zM593,182h1v1h-1zM594,181h2v1h-2zM596,180h1v1h-1zM597,179h2v1h-2zM599,178h2v1h-2zM601,177h2v1h-2zM603,176h2v1h-2zM605,175h2v1h-2zM607,174h2v1h-2zM609,173h2v1h-2zM611,172h9v1h-9zM620,171h2v1h-2zM622,170h1v1h-1zM623,169h1v1h-1zM624,168h2v1h-2zM626,167h1v1h-1zM627,166h1v1h-1zM628,165h1v1h-1zM629,164h1v1h-1zM630,163h1v1h-1zM631,162h1v1h-1zM632,161h1v1h-1zM633,160h1v1h-1zM634,159h1v1h-1zM635,158h1v1h-1zM636,157h1v1h-1zM637,156h1v1h-1zM638,155h1v1h-1zM639,154h1v1h-1zM640,153h1v1h-1zM641,152h1v1h-1zM642,151h1v1h-1zM643,150h2v1h-2zM645,149h1v1h-1zM646,148h1v1h-1zM647,147h1v1h-1zM648,146h1v1h-1zM649,145h1v1h-1zM650,144h1v1h-1zM651,143h2v1h-2zM653,142h1v1h-1zM654,141h1v1h-1zM655,140h1v1h-1zM656,139h1v1h-1zM657,138h1v1h-1zM658,137h1v1h-1zM659,136h1v1h-1zM660,135h1v1h-1zM661,134h1v1h-1zM662,133h1v1h-1zM663,132h1v1h-1zM664,131h1v1h-1zM665,130h1v1h-1zM666,129h1v1h-1zM667,128h1v1h-1zM668,127h1v1h-1zM669,126h1v1h-1zM670,125h1v1h-1zM671,124h1v1h-1zM672,123h1v1h-1zM673,122h1v1h-1zM674,121h1v1h-1zM675,120h1v1h-1zM676,119h1v1h-1zM677,118h1v1h-1zM678,117h2v1h-2zM680,116h2v1h-2zM682,115h3v1h-3zM685,114h2v1h-2zM687,113h6v1h-6zM693,112h12v1h-12zM705,111h22v1h-22zM727,112h4v1h-4zM731,113h4v1h-4zM735,114h4v1h-4zM739,115h4v1h-4zM743,116h42v1h-42zM785,115h11v1h-11zM796,114h7v1h-7zM803,113h6v1h-6zM809,112h5v1h-5zM814,111h3v1h-3zM817,110h2v1h-2zM819,109h3v1h-3zM822,108h3v1h-3zM825,107h2v1h-2zM827,106h31v1h-31zM858,107h2v1h-2zM860,108h2v1h-2zM862,109h2v1h-2zM864,110h1v1h-1zM865,111h2v1h-2zM867,112h1v1h-1zM868,113h1v1h-1zM869,114h1v1h-1zM870,115h1v1h-1zM871,116h2v1h-2zM873,117h1v1h-1zM874,118h1v1h-1zM875,119h1v2h-1zM876,121h1v2h-1zM877,123h1v2h-1zM878,125h1v2h-1zM879,127h1v2h-1zM880,129h1v2h-1zM881,131h1v2h-1zM882,133h1v2h-1zM883,135h1v2h-1zM884,137h1v3h-1zM885,140h1v3h-1zM886,143h1v3h-1zM887,146h1v2h-1zM888,148h1v3h-1zM889,151h1v3h-1zM890,154h1v3h-1zM891,157h1v3h-1zM892,160h1v2h-1zM893,162h1v2h-1zM894,164h1v3h-1zM895,167h1v2h-1zM896,169h1v3h-1zM897,172h1v2h-1zM898,174h1v2h-1zM899,176h1v2h-1zM900,178h1v2h-1zM901,180h1v1h-1zM902,181h1v2h-1zM903,183h1v1h-1zM904,184h1v2h-1zM905,186h1v1h-1zM906,187h1v2h-1zM907,189h1v1h-1z" fill="#52B81A"/>
<rect x="3" y="113" width="957" height="1" fill="#FF0000"/>
<rect x="3" y="203" width="957" height="1" fill="#FF0000"/>
<use href="#bars"/>
</g>
<g fill="none" stroke-width="2.4" stroke-linecap="round" stroke-linejoin="round" filter="url(#as)">
<path stroke="#FF0000" d="M907.5,188 L915,172.5 L920,166.5 L924,161 L926,158.5 L930,163 L939,175.5 L949.5,189 L960,205 L970.5,224 M956,213.5 L970.5,224 M962.5,197.5 L966,209 L970.5,224"/>
<path stroke="#0000FF" d="M921.5,155 L933,134 L939,124.5 L944.5,117.5 L950.5,127.5 L960,144.5 L972.5,172.5 L996,208.5 M982.5,199 L996,208.5 M991.5,183 L995,214"/>
</g>
</svg>
</body></html>
